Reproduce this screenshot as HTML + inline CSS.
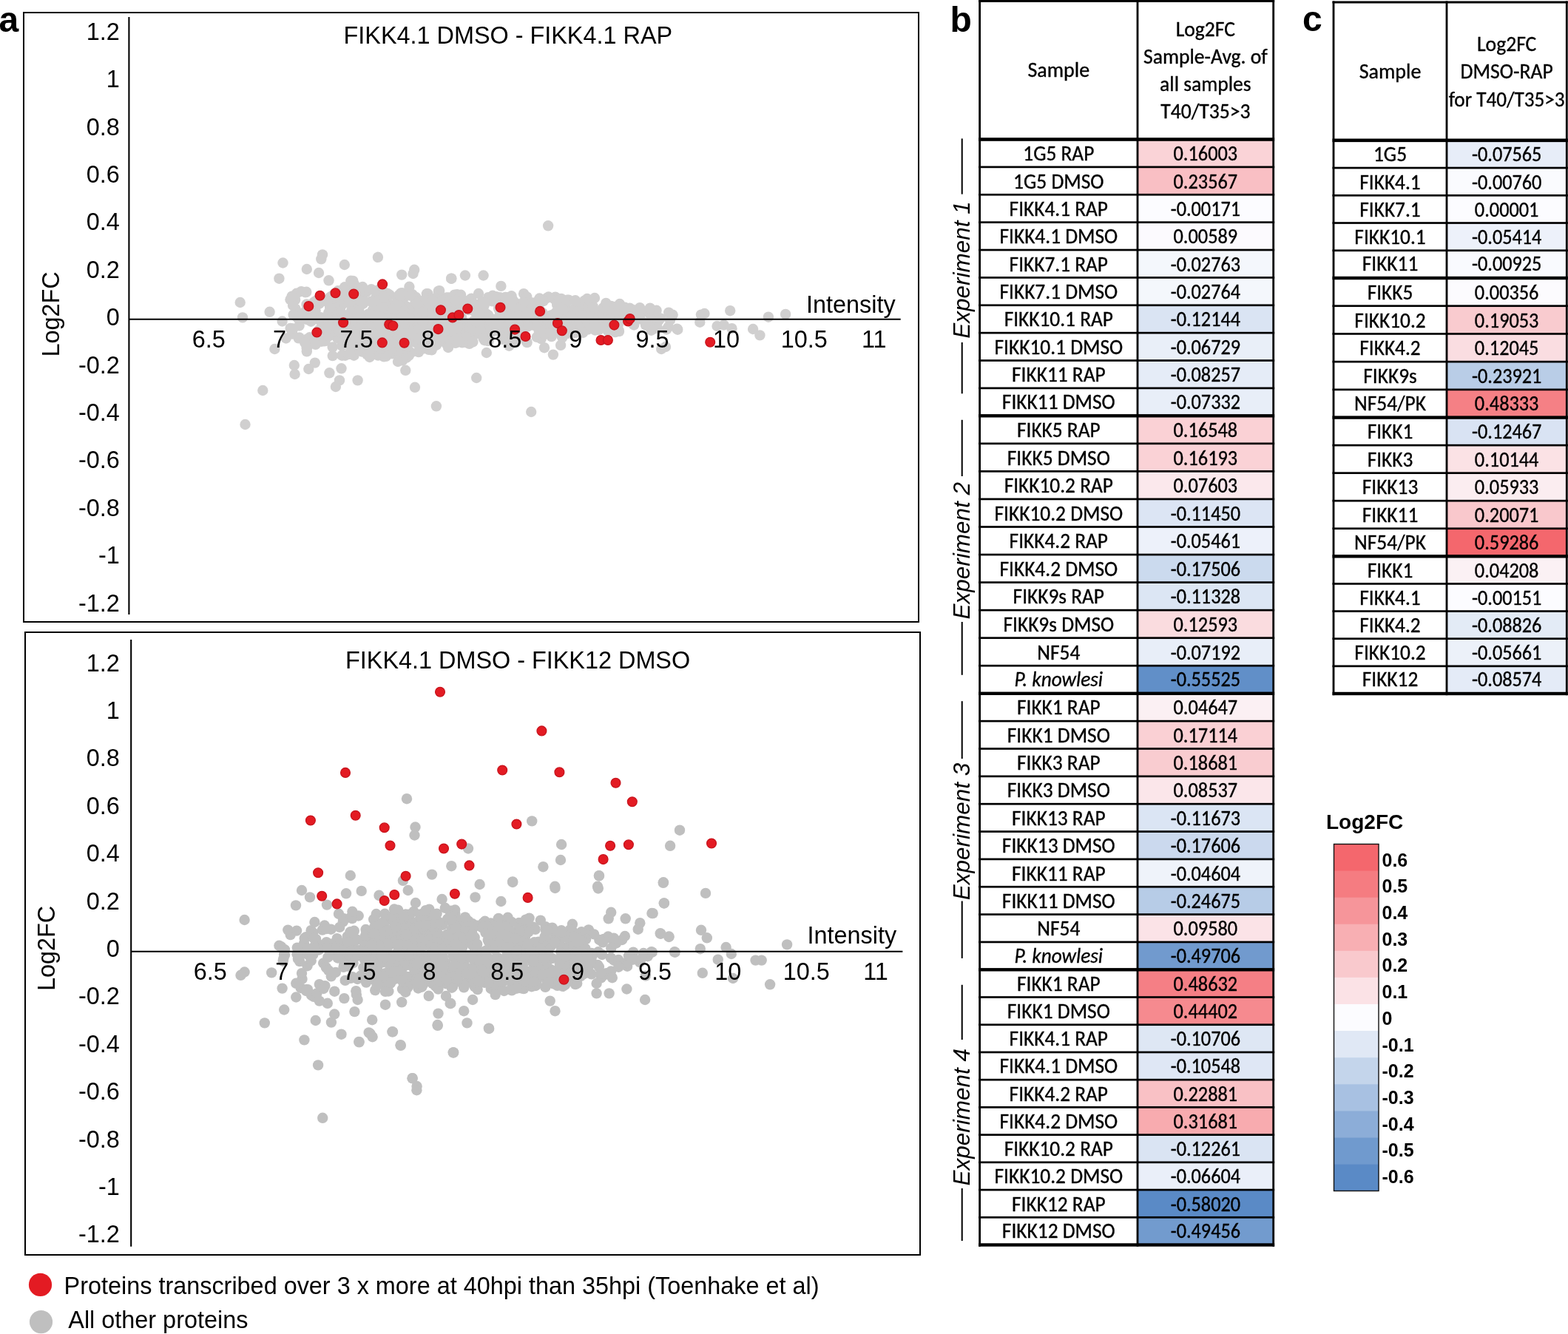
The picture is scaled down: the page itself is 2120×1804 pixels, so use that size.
<!DOCTYPE html><html><head><meta charset="utf-8"><title>Figure</title>
<style>html,body{margin:0;padding:0;background:#fff;}svg{display:block;}</style></head><body>
<svg width="2120" height="1804" viewBox="0 0 2120 1804">
<rect width="2120" height="1804" fill="#fff"/>
<rect x="32" y="17" width="1210" height="824" fill="none" stroke="#000" stroke-width="2"/>
<g fill="#d0cfcf">
<circle cx="491.7" cy="451.5" r="7.2"/>
<circle cx="438.1" cy="461.4" r="7.2"/>
<circle cx="469.3" cy="455.5" r="7.2"/>
<circle cx="777.3" cy="425.6" r="7.2"/>
<circle cx="549.6" cy="483.6" r="7.2"/>
<circle cx="434.6" cy="461.7" r="7.2"/>
<circle cx="561.3" cy="409.8" r="7.2"/>
<circle cx="674.1" cy="416.8" r="7.2"/>
<circle cx="555.7" cy="477.0" r="7.2"/>
<circle cx="439.0" cy="431.4" r="7.2"/>
<circle cx="470.8" cy="391.3" r="7.2"/>
<circle cx="641.3" cy="451.4" r="7.2"/>
<circle cx="790.9" cy="435.7" r="7.2"/>
<circle cx="517.1" cy="446.9" r="7.2"/>
<circle cx="526.7" cy="448.4" r="7.2"/>
<circle cx="729.9" cy="419.6" r="7.2"/>
<circle cx="806.5" cy="421.0" r="7.2"/>
<circle cx="521.3" cy="396.1" r="7.2"/>
<circle cx="691.0" cy="424.5" r="7.2"/>
<circle cx="626.3" cy="410.6" r="7.2"/>
<circle cx="625.1" cy="462.1" r="7.2"/>
<circle cx="672.3" cy="440.7" r="7.2"/>
<circle cx="604.6" cy="420.2" r="7.2"/>
<circle cx="505.7" cy="409.5" r="7.2"/>
<circle cx="544.0" cy="413.3" r="7.2"/>
<circle cx="527.5" cy="436.9" r="7.2"/>
<circle cx="752.7" cy="422.8" r="7.2"/>
<circle cx="530.2" cy="418.6" r="7.2"/>
<circle cx="788.4" cy="411.3" r="7.2"/>
<circle cx="768.0" cy="420.3" r="7.2"/>
<circle cx="400.2" cy="427.7" r="7.2"/>
<circle cx="425.7" cy="464.5" r="7.2"/>
<circle cx="832.8" cy="435.4" r="7.2"/>
<circle cx="415.5" cy="469.0" r="7.2"/>
<circle cx="681.7" cy="454.9" r="7.2"/>
<circle cx="485.8" cy="391.1" r="7.2"/>
<circle cx="808.4" cy="431.6" r="7.2"/>
<circle cx="758.9" cy="404.0" r="7.2"/>
<circle cx="732.7" cy="426.7" r="7.2"/>
<circle cx="729.7" cy="421.8" r="7.2"/>
<circle cx="826.3" cy="413.9" r="7.2"/>
<circle cx="490.1" cy="392.5" r="7.2"/>
<circle cx="537.8" cy="474.2" r="7.2"/>
<circle cx="511.7" cy="445.6" r="7.2"/>
<circle cx="520.6" cy="410.0" r="7.2"/>
<circle cx="781.7" cy="444.4" r="7.2"/>
<circle cx="685.4" cy="429.2" r="7.2"/>
<circle cx="568.6" cy="461.6" r="7.2"/>
<circle cx="414.3" cy="394.8" r="7.2"/>
<circle cx="508.6" cy="401.7" r="7.2"/>
<circle cx="551.0" cy="452.4" r="7.2"/>
<circle cx="562.4" cy="402.0" r="7.2"/>
<circle cx="885.5" cy="437.9" r="7.2"/>
<circle cx="721.5" cy="439.8" r="7.2"/>
<circle cx="509.7" cy="468.2" r="7.2"/>
<circle cx="889.2" cy="433.0" r="7.2"/>
<circle cx="577.2" cy="426.1" r="7.2"/>
<circle cx="685.7" cy="402.1" r="7.2"/>
<circle cx="446.8" cy="434.2" r="7.2"/>
<circle cx="548.3" cy="464.4" r="7.2"/>
<circle cx="825.9" cy="441.5" r="7.2"/>
<circle cx="578.4" cy="397.3" r="7.2"/>
<circle cx="758.7" cy="453.2" r="7.2"/>
<circle cx="502.0" cy="391.1" r="7.2"/>
<circle cx="449.7" cy="469.4" r="7.2"/>
<circle cx="854.0" cy="433.9" r="7.2"/>
<circle cx="710.1" cy="455.6" r="7.2"/>
<circle cx="472.2" cy="434.2" r="7.2"/>
<circle cx="475.9" cy="471.5" r="7.2"/>
<circle cx="464.5" cy="444.6" r="7.2"/>
<circle cx="656.8" cy="430.4" r="7.2"/>
<circle cx="892.9" cy="430.4" r="7.2"/>
<circle cx="831.1" cy="414.9" r="7.2"/>
<circle cx="440.2" cy="447.7" r="7.2"/>
<circle cx="448.9" cy="446.4" r="7.2"/>
<circle cx="483.9" cy="443.9" r="7.2"/>
<circle cx="495.4" cy="394.9" r="7.2"/>
<circle cx="523.4" cy="429.2" r="7.2"/>
<circle cx="672.7" cy="410.0" r="7.2"/>
<circle cx="636.3" cy="459.3" r="7.2"/>
<circle cx="739.6" cy="402.9" r="7.2"/>
<circle cx="729.3" cy="436.2" r="7.2"/>
<circle cx="537.2" cy="451.7" r="7.2"/>
<circle cx="682.1" cy="432.5" r="7.2"/>
<circle cx="667.3" cy="445.4" r="7.2"/>
<circle cx="583.7" cy="473.3" r="7.2"/>
<circle cx="794.6" cy="445.6" r="7.2"/>
<circle cx="456.9" cy="393.3" r="7.2"/>
<circle cx="733.7" cy="423.1" r="7.2"/>
<circle cx="511.2" cy="480.6" r="7.2"/>
<circle cx="509.4" cy="473.4" r="7.2"/>
<circle cx="617.5" cy="432.4" r="7.2"/>
<circle cx="781.6" cy="443.7" r="7.2"/>
<circle cx="767.0" cy="434.4" r="7.2"/>
<circle cx="534.4" cy="457.3" r="7.2"/>
<circle cx="456.2" cy="457.5" r="7.2"/>
<circle cx="487.7" cy="435.8" r="7.2"/>
<circle cx="711.3" cy="431.7" r="7.2"/>
<circle cx="904.1" cy="422.6" r="7.2"/>
<circle cx="538.1" cy="458.7" r="7.2"/>
<circle cx="704.4" cy="424.5" r="7.2"/>
<circle cx="594.2" cy="393.1" r="7.2"/>
<circle cx="466.6" cy="408.9" r="7.2"/>
<circle cx="464.0" cy="440.7" r="7.2"/>
<circle cx="523.1" cy="451.3" r="7.2"/>
<circle cx="479.3" cy="476.1" r="7.2"/>
<circle cx="692.7" cy="442.6" r="7.2"/>
<circle cx="453.4" cy="415.5" r="7.2"/>
<circle cx="659.5" cy="461.0" r="7.2"/>
<circle cx="746.4" cy="448.1" r="7.2"/>
<circle cx="762.3" cy="415.2" r="7.2"/>
<circle cx="741.3" cy="438.8" r="7.2"/>
<circle cx="692.3" cy="423.6" r="7.2"/>
<circle cx="458.4" cy="427.6" r="7.2"/>
<circle cx="472.2" cy="447.4" r="7.2"/>
<circle cx="403.6" cy="457.3" r="7.2"/>
<circle cx="697.8" cy="448.5" r="7.2"/>
<circle cx="509.3" cy="457.4" r="7.2"/>
<circle cx="873.2" cy="439.9" r="7.2"/>
<circle cx="517.4" cy="425.3" r="7.2"/>
<circle cx="516.1" cy="430.1" r="7.2"/>
<circle cx="496.3" cy="479.4" r="7.2"/>
<circle cx="849.6" cy="421.0" r="7.2"/>
<circle cx="866.2" cy="420.6" r="7.2"/>
<circle cx="476.1" cy="407.3" r="7.2"/>
<circle cx="637.3" cy="403.7" r="7.2"/>
<circle cx="421.0" cy="426.9" r="7.2"/>
<circle cx="616.0" cy="455.2" r="7.2"/>
<circle cx="463.4" cy="438.6" r="7.2"/>
<circle cx="464.9" cy="408.8" r="7.2"/>
<circle cx="592.7" cy="419.8" r="7.2"/>
<circle cx="832.1" cy="423.4" r="7.2"/>
<circle cx="473.8" cy="443.4" r="7.2"/>
<circle cx="526.3" cy="478.2" r="7.2"/>
<circle cx="424.2" cy="408.8" r="7.2"/>
<circle cx="511.2" cy="459.9" r="7.2"/>
<circle cx="836.5" cy="446.7" r="7.2"/>
<circle cx="612.9" cy="417.0" r="7.2"/>
<circle cx="727.5" cy="407.3" r="7.2"/>
<circle cx="472.1" cy="429.5" r="7.2"/>
<circle cx="466.1" cy="447.4" r="7.2"/>
<circle cx="407.3" cy="394.1" r="7.2"/>
<circle cx="553.8" cy="476.2" r="7.2"/>
<circle cx="885.4" cy="444.1" r="7.2"/>
<circle cx="526.4" cy="458.6" r="7.2"/>
<circle cx="750.8" cy="401.6" r="7.2"/>
<circle cx="802.3" cy="442.3" r="7.2"/>
<circle cx="687.9" cy="417.4" r="7.2"/>
<circle cx="554.9" cy="416.5" r="7.2"/>
<circle cx="825.2" cy="417.2" r="7.2"/>
<circle cx="446.1" cy="402.0" r="7.2"/>
<circle cx="395.8" cy="405.1" r="7.2"/>
<circle cx="466.7" cy="480.7" r="7.2"/>
<circle cx="617.0" cy="463.5" r="7.2"/>
<circle cx="592.5" cy="408.4" r="7.2"/>
<circle cx="600.1" cy="426.3" r="7.2"/>
<circle cx="777.1" cy="418.4" r="7.2"/>
<circle cx="666.6" cy="431.7" r="7.2"/>
<circle cx="599.0" cy="414.9" r="7.2"/>
<circle cx="525.2" cy="465.4" r="7.2"/>
<circle cx="477.1" cy="419.8" r="7.2"/>
<circle cx="701.5" cy="432.6" r="7.2"/>
<circle cx="728.9" cy="454.9" r="7.2"/>
<circle cx="735.1" cy="436.5" r="7.2"/>
<circle cx="566.0" cy="476.1" r="7.2"/>
<circle cx="466.0" cy="388.3" r="7.2"/>
<circle cx="719.4" cy="418.8" r="7.2"/>
<circle cx="644.1" cy="445.1" r="7.2"/>
<circle cx="431.5" cy="410.6" r="7.2"/>
<circle cx="542.8" cy="475.6" r="7.2"/>
<circle cx="425.2" cy="460.3" r="7.2"/>
<circle cx="890.0" cy="434.2" r="7.2"/>
<circle cx="477.6" cy="444.8" r="7.2"/>
<circle cx="875.6" cy="421.8" r="7.2"/>
<circle cx="526.0" cy="415.2" r="7.2"/>
<circle cx="474.3" cy="379.8" r="7.2"/>
<circle cx="523.5" cy="448.6" r="7.2"/>
<circle cx="747.9" cy="436.2" r="7.2"/>
<circle cx="768.2" cy="429.9" r="7.2"/>
<circle cx="479.2" cy="404.5" r="7.2"/>
<circle cx="765.7" cy="409.2" r="7.2"/>
<circle cx="481.0" cy="453.4" r="7.2"/>
<circle cx="734.9" cy="449.9" r="7.2"/>
<circle cx="530.2" cy="478.4" r="7.2"/>
<circle cx="726.8" cy="428.5" r="7.2"/>
<circle cx="546.7" cy="440.9" r="7.2"/>
<circle cx="693.2" cy="438.4" r="7.2"/>
<circle cx="439.7" cy="461.1" r="7.2"/>
<circle cx="447.6" cy="442.5" r="7.2"/>
<circle cx="879.6" cy="439.5" r="7.2"/>
<circle cx="511.8" cy="392.0" r="7.2"/>
<circle cx="456.1" cy="420.4" r="7.2"/>
<circle cx="572.8" cy="462.1" r="7.2"/>
<circle cx="613.6" cy="411.4" r="7.2"/>
<circle cx="624.9" cy="463.4" r="7.2"/>
<circle cx="431.7" cy="410.5" r="7.2"/>
<circle cx="849.6" cy="431.9" r="7.2"/>
<circle cx="448.9" cy="400.1" r="7.2"/>
<circle cx="856.4" cy="419.1" r="7.2"/>
<circle cx="576.1" cy="465.2" r="7.2"/>
<circle cx="420.0" cy="430.6" r="7.2"/>
<circle cx="399.1" cy="405.6" r="7.2"/>
<circle cx="880.5" cy="446.7" r="7.2"/>
<circle cx="414.6" cy="470.5" r="7.2"/>
<circle cx="794.0" cy="442.1" r="7.2"/>
<circle cx="415.3" cy="431.3" r="7.2"/>
<circle cx="712.6" cy="463.1" r="7.2"/>
<circle cx="716.3" cy="410.7" r="7.2"/>
<circle cx="451.2" cy="421.6" r="7.2"/>
<circle cx="745.6" cy="455.1" r="7.2"/>
<circle cx="753.5" cy="431.3" r="7.2"/>
<circle cx="490.2" cy="388.0" r="7.2"/>
<circle cx="487.1" cy="411.1" r="7.2"/>
<circle cx="725.8" cy="455.9" r="7.2"/>
<circle cx="770.8" cy="441.8" r="7.2"/>
<circle cx="399.5" cy="417.7" r="7.2"/>
<circle cx="691.6" cy="432.1" r="7.2"/>
<circle cx="544.5" cy="404.3" r="7.2"/>
<circle cx="485.3" cy="419.8" r="7.2"/>
<circle cx="452.2" cy="397.6" r="7.2"/>
<circle cx="768.9" cy="405.7" r="7.2"/>
<circle cx="743.0" cy="431.0" r="7.2"/>
<circle cx="524.9" cy="450.4" r="7.2"/>
<circle cx="647.0" cy="397.0" r="7.2"/>
<circle cx="532.4" cy="432.1" r="7.2"/>
<circle cx="515.0" cy="430.1" r="7.2"/>
<circle cx="469.9" cy="464.9" r="7.2"/>
<circle cx="477.3" cy="379.9" r="7.2"/>
<circle cx="543.3" cy="418.0" r="7.2"/>
<circle cx="762.7" cy="414.1" r="7.2"/>
<circle cx="413.7" cy="430.2" r="7.2"/>
<circle cx="503.7" cy="459.1" r="7.2"/>
<circle cx="413.0" cy="395.4" r="7.2"/>
<circle cx="427.8" cy="406.4" r="7.2"/>
<circle cx="588.2" cy="431.5" r="7.2"/>
<circle cx="680.7" cy="409.6" r="7.2"/>
<circle cx="577.1" cy="469.3" r="7.2"/>
<circle cx="475.2" cy="469.9" r="7.2"/>
<circle cx="633.7" cy="406.4" r="7.2"/>
<circle cx="529.5" cy="414.3" r="7.2"/>
<circle cx="849.5" cy="428.3" r="7.2"/>
<circle cx="687.8" cy="459.3" r="7.2"/>
<circle cx="786.2" cy="448.9" r="7.2"/>
<circle cx="606.7" cy="424.3" r="7.2"/>
<circle cx="449.7" cy="481.1" r="7.2"/>
<circle cx="582.2" cy="460.9" r="7.2"/>
<circle cx="584.4" cy="404.3" r="7.2"/>
<circle cx="629.5" cy="446.1" r="7.2"/>
<circle cx="688.0" cy="432.4" r="7.2"/>
<circle cx="607.2" cy="425.9" r="7.2"/>
<circle cx="729.1" cy="410.1" r="7.2"/>
<circle cx="831.9" cy="449.1" r="7.2"/>
<circle cx="543.1" cy="437.8" r="7.2"/>
<circle cx="879.3" cy="425.3" r="7.2"/>
<circle cx="495.4" cy="443.8" r="7.2"/>
<circle cx="431.4" cy="445.9" r="7.2"/>
<circle cx="478.5" cy="480.7" r="7.2"/>
<circle cx="404.6" cy="456.4" r="7.2"/>
<circle cx="548.6" cy="443.0" r="7.2"/>
<circle cx="739.0" cy="432.0" r="7.2"/>
<circle cx="623.1" cy="398.8" r="7.2"/>
<circle cx="394.2" cy="446.2" r="7.2"/>
<circle cx="504.3" cy="436.5" r="7.2"/>
<circle cx="642.3" cy="448.6" r="7.2"/>
<circle cx="519.1" cy="482.4" r="7.2"/>
<circle cx="392.6" cy="443.9" r="7.2"/>
<circle cx="590.6" cy="425.5" r="7.2"/>
<circle cx="418.5" cy="424.9" r="7.2"/>
<circle cx="711.7" cy="461.5" r="7.2"/>
<circle cx="694.2" cy="454.9" r="7.2"/>
<circle cx="512.0" cy="431.2" r="7.2"/>
<circle cx="579.7" cy="472.8" r="7.2"/>
<circle cx="772.9" cy="450.9" r="7.2"/>
<circle cx="542.8" cy="480.5" r="7.2"/>
<circle cx="392.5" cy="405.2" r="7.2"/>
<circle cx="675.1" cy="408.8" r="7.2"/>
<circle cx="417.9" cy="458.7" r="7.2"/>
<circle cx="483.9" cy="401.0" r="7.2"/>
<circle cx="414.8" cy="418.4" r="7.2"/>
<circle cx="634.6" cy="464.9" r="7.2"/>
<circle cx="479.2" cy="384.9" r="7.2"/>
<circle cx="552.7" cy="481.0" r="7.2"/>
<circle cx="542.9" cy="416.9" r="7.2"/>
<circle cx="616.3" cy="459.8" r="7.2"/>
<circle cx="595.6" cy="443.7" r="7.2"/>
<circle cx="763.5" cy="406.5" r="7.2"/>
<circle cx="418.7" cy="456.3" r="7.2"/>
<circle cx="432.8" cy="433.6" r="7.2"/>
<circle cx="660.1" cy="402.2" r="7.2"/>
<circle cx="614.8" cy="442.7" r="7.2"/>
<circle cx="656.3" cy="424.9" r="7.2"/>
<circle cx="690.0" cy="424.2" r="7.2"/>
<circle cx="755.8" cy="436.1" r="7.2"/>
<circle cx="544.5" cy="444.8" r="7.2"/>
<circle cx="707.6" cy="438.5" r="7.2"/>
<circle cx="491.8" cy="409.2" r="7.2"/>
<circle cx="720.6" cy="424.0" r="7.2"/>
<circle cx="436.7" cy="407.2" r="7.2"/>
<circle cx="654.0" cy="440.3" r="7.2"/>
<circle cx="903.6" cy="442.2" r="7.2"/>
<circle cx="853.6" cy="423.0" r="7.2"/>
<circle cx="396.6" cy="425.7" r="7.2"/>
<circle cx="777.4" cy="416.9" r="7.2"/>
<circle cx="767.0" cy="405.6" r="7.2"/>
<circle cx="837.0" cy="448.1" r="7.2"/>
<circle cx="439.7" cy="444.1" r="7.2"/>
<circle cx="553.3" cy="397.3" r="7.2"/>
<circle cx="683.9" cy="417.1" r="7.2"/>
<circle cx="684.1" cy="427.5" r="7.2"/>
<circle cx="600.3" cy="453.9" r="7.2"/>
<circle cx="486.1" cy="440.6" r="7.2"/>
<circle cx="698.3" cy="410.5" r="7.2"/>
<circle cx="434.6" cy="460.1" r="7.2"/>
<circle cx="651.9" cy="410.4" r="7.2"/>
<circle cx="701.0" cy="455.2" r="7.2"/>
<circle cx="537.2" cy="403.6" r="7.2"/>
<circle cx="707.0" cy="432.7" r="7.2"/>
<circle cx="456.2" cy="408.0" r="7.2"/>
<circle cx="400.9" cy="396.8" r="7.2"/>
<circle cx="719.3" cy="423.0" r="7.2"/>
<circle cx="451.7" cy="449.4" r="7.2"/>
<circle cx="744.4" cy="426.7" r="7.2"/>
<circle cx="570.5" cy="460.1" r="7.2"/>
<circle cx="461.8" cy="412.9" r="7.2"/>
<circle cx="395.2" cy="451.6" r="7.2"/>
<circle cx="678.1" cy="440.6" r="7.2"/>
<circle cx="414.6" cy="458.9" r="7.2"/>
<circle cx="573.0" cy="471.4" r="7.2"/>
<circle cx="664.6" cy="443.4" r="7.2"/>
<circle cx="489.1" cy="475.5" r="7.2"/>
<circle cx="878.1" cy="441.2" r="7.2"/>
<circle cx="519.4" cy="424.0" r="7.2"/>
<circle cx="455.5" cy="400.7" r="7.2"/>
<circle cx="551.5" cy="415.5" r="7.2"/>
<circle cx="614.8" cy="421.7" r="7.2"/>
<circle cx="555.0" cy="430.7" r="7.2"/>
<circle cx="396.0" cy="412.9" r="7.2"/>
<circle cx="420.5" cy="434.7" r="7.2"/>
<circle cx="609.3" cy="441.8" r="7.2"/>
<circle cx="510.9" cy="403.5" r="7.2"/>
<circle cx="403.3" cy="430.8" r="7.2"/>
<circle cx="670.9" cy="401.1" r="7.2"/>
<circle cx="688.8" cy="422.2" r="7.2"/>
<circle cx="434.8" cy="443.8" r="7.2"/>
<circle cx="462.4" cy="480.7" r="7.2"/>
<circle cx="520.9" cy="401.6" r="7.2"/>
<circle cx="494.7" cy="439.7" r="7.2"/>
<circle cx="606.1" cy="405.0" r="7.2"/>
<circle cx="409.0" cy="423.6" r="7.2"/>
<circle cx="688.2" cy="442.2" r="7.2"/>
<circle cx="746.5" cy="426.2" r="7.2"/>
<circle cx="497.2" cy="473.8" r="7.2"/>
<circle cx="731.7" cy="458.2" r="7.2"/>
<circle cx="688.9" cy="410.7" r="7.2"/>
<circle cx="857.2" cy="439.5" r="7.2"/>
<circle cx="590.1" cy="406.6" r="7.2"/>
<circle cx="426.6" cy="465.9" r="7.2"/>
<circle cx="825.8" cy="419.1" r="7.2"/>
<circle cx="879.4" cy="424.7" r="7.2"/>
<circle cx="679.2" cy="438.9" r="7.2"/>
<circle cx="640.3" cy="434.0" r="7.2"/>
<circle cx="749.8" cy="404.7" r="7.2"/>
<circle cx="526.6" cy="476.7" r="7.2"/>
<circle cx="525.8" cy="426.7" r="7.2"/>
<circle cx="693.3" cy="433.0" r="7.2"/>
<circle cx="664.7" cy="437.5" r="7.2"/>
<circle cx="492.5" cy="391.7" r="7.2"/>
<circle cx="541.8" cy="454.2" r="7.2"/>
<circle cx="564.8" cy="450.1" r="7.2"/>
<circle cx="414.7" cy="432.0" r="7.2"/>
<circle cx="605.9" cy="450.6" r="7.2"/>
<circle cx="414.5" cy="411.5" r="7.2"/>
<circle cx="765.4" cy="407.2" r="7.2"/>
<circle cx="518.9" cy="477.3" r="7.2"/>
<circle cx="836.6" cy="435.8" r="7.2"/>
<circle cx="647.1" cy="433.0" r="7.2"/>
<circle cx="576.9" cy="397.3" r="7.2"/>
<circle cx="834.6" cy="441.9" r="7.2"/>
<circle cx="760.3" cy="456.4" r="7.2"/>
<circle cx="482.0" cy="437.7" r="7.2"/>
<circle cx="394.7" cy="400.7" r="7.2"/>
<circle cx="433.6" cy="429.1" r="7.2"/>
<circle cx="691.3" cy="419.5" r="7.2"/>
<circle cx="865.1" cy="416.1" r="7.2"/>
<circle cx="700.1" cy="429.8" r="7.2"/>
<circle cx="561.9" cy="415.4" r="7.2"/>
<circle cx="576.6" cy="403.6" r="7.2"/>
<circle cx="708.1" cy="397.2" r="7.2"/>
<circle cx="741.6" cy="401.5" r="7.2"/>
<circle cx="462.3" cy="467.7" r="7.2"/>
<circle cx="762.0" cy="430.1" r="7.2"/>
<circle cx="490.9" cy="410.6" r="7.2"/>
<circle cx="614.5" cy="398.6" r="7.2"/>
<circle cx="624.0" cy="429.4" r="7.2"/>
<circle cx="624.7" cy="412.8" r="7.2"/>
<circle cx="757.2" cy="420.5" r="7.2"/>
<circle cx="521.9" cy="481.9" r="7.2"/>
<circle cx="566.6" cy="417.6" r="7.2"/>
<circle cx="471.4" cy="479.0" r="7.2"/>
<circle cx="507.1" cy="413.7" r="7.2"/>
<circle cx="473.5" cy="392.9" r="7.2"/>
<circle cx="417.5" cy="429.0" r="7.2"/>
<circle cx="723.1" cy="433.1" r="7.2"/>
<circle cx="576.1" cy="427.5" r="7.2"/>
<circle cx="689.0" cy="435.7" r="7.2"/>
<circle cx="778.1" cy="441.8" r="7.2"/>
<circle cx="801.2" cy="419.9" r="7.2"/>
<circle cx="659.2" cy="440.0" r="7.2"/>
<circle cx="446.6" cy="431.3" r="7.2"/>
<circle cx="603.6" cy="465.0" r="7.2"/>
<circle cx="589.0" cy="461.0" r="7.2"/>
<circle cx="888.7" cy="443.5" r="7.2"/>
<circle cx="552.2" cy="459.3" r="7.2"/>
<circle cx="475.3" cy="381.4" r="7.2"/>
<circle cx="680.1" cy="448.3" r="7.2"/>
<circle cx="791.9" cy="408.0" r="7.2"/>
<circle cx="901.2" cy="445.5" r="7.2"/>
<circle cx="731.7" cy="405.2" r="7.2"/>
<circle cx="499.9" cy="466.2" r="7.2"/>
<circle cx="524.1" cy="459.4" r="7.2"/>
<circle cx="712.2" cy="401.4" r="7.2"/>
<circle cx="584.6" cy="423.4" r="7.2"/>
<circle cx="695.7" cy="457.9" r="7.2"/>
<circle cx="592.8" cy="393.7" r="7.2"/>
<circle cx="887.6" cy="419.8" r="7.2"/>
<circle cx="539.8" cy="454.8" r="7.2"/>
<circle cx="837.9" cy="411.0" r="7.2"/>
<circle cx="544.3" cy="487.5" r="7.2"/>
<circle cx="444.4" cy="454.6" r="7.2"/>
<circle cx="697.4" cy="462.4" r="7.2"/>
<circle cx="691.1" cy="456.8" r="7.2"/>
<circle cx="761.3" cy="438.3" r="7.2"/>
<circle cx="396.3" cy="444.5" r="7.2"/>
<circle cx="788.0" cy="435.0" r="7.2"/>
<circle cx="580.6" cy="463.5" r="7.2"/>
<circle cx="426.6" cy="420.2" r="7.2"/>
<circle cx="615.2" cy="463.7" r="7.2"/>
<circle cx="651.1" cy="425.2" r="7.2"/>
<circle cx="536.9" cy="427.5" r="7.2"/>
<circle cx="662.5" cy="449.9" r="7.2"/>
<circle cx="636.6" cy="404.8" r="7.2"/>
<circle cx="822.2" cy="416.1" r="7.2"/>
<circle cx="487.1" cy="425.7" r="7.2"/>
<circle cx="609.5" cy="423.1" r="7.2"/>
<circle cx="619.5" cy="431.6" r="7.2"/>
<circle cx="590.2" cy="451.2" r="7.2"/>
<circle cx="679.7" cy="423.8" r="7.2"/>
<circle cx="790.1" cy="410.9" r="7.2"/>
<circle cx="753.3" cy="406.2" r="7.2"/>
<circle cx="679.2" cy="458.7" r="7.2"/>
<circle cx="826.7" cy="415.3" r="7.2"/>
<circle cx="674.1" cy="430.5" r="7.2"/>
<circle cx="617.3" cy="433.5" r="7.2"/>
<circle cx="699.6" cy="444.6" r="7.2"/>
<circle cx="595.8" cy="405.6" r="7.2"/>
<circle cx="654.9" cy="412.0" r="7.2"/>
<circle cx="757.1" cy="440.3" r="7.2"/>
<circle cx="595.7" cy="411.2" r="7.2"/>
<circle cx="603.8" cy="402.4" r="7.2"/>
<circle cx="697.8" cy="449.5" r="7.2"/>
<circle cx="733.2" cy="437.6" r="7.2"/>
<circle cx="529.3" cy="421.7" r="7.2"/>
<circle cx="722.3" cy="419.6" r="7.2"/>
<circle cx="480.2" cy="465.5" r="7.2"/>
<circle cx="804.8" cy="426.7" r="7.2"/>
<circle cx="453.1" cy="413.5" r="7.2"/>
<circle cx="730.0" cy="433.3" r="7.2"/>
<circle cx="858.7" cy="425.3" r="7.2"/>
<circle cx="735.9" cy="439.2" r="7.2"/>
<circle cx="616.2" cy="437.1" r="7.2"/>
<circle cx="862.2" cy="431.6" r="7.2"/>
<circle cx="596.0" cy="460.4" r="7.2"/>
<circle cx="599.9" cy="419.7" r="7.2"/>
<circle cx="446.7" cy="425.7" r="7.2"/>
<circle cx="657.4" cy="456.3" r="7.2"/>
<circle cx="551.6" cy="439.7" r="7.2"/>
<circle cx="677.1" cy="443.2" r="7.2"/>
<circle cx="490.2" cy="405.1" r="7.2"/>
<circle cx="468.1" cy="398.2" r="7.2"/>
<circle cx="822.6" cy="415.8" r="7.2"/>
<circle cx="523.9" cy="396.9" r="7.2"/>
<circle cx="811.0" cy="432.4" r="7.2"/>
<circle cx="480.6" cy="455.9" r="7.2"/>
<circle cx="660.1" cy="426.2" r="7.2"/>
<circle cx="478.6" cy="440.5" r="7.2"/>
<circle cx="461.1" cy="455.5" r="7.2"/>
<circle cx="547.5" cy="413.1" r="7.2"/>
<circle cx="500.5" cy="441.1" r="7.2"/>
<circle cx="667.8" cy="442.0" r="7.2"/>
<circle cx="487.1" cy="400.6" r="7.2"/>
<circle cx="475.1" cy="420.0" r="7.2"/>
<circle cx="543.9" cy="396.1" r="7.2"/>
<circle cx="862.5" cy="420.1" r="7.2"/>
<circle cx="590.3" cy="445.9" r="7.2"/>
<circle cx="517.0" cy="406.4" r="7.2"/>
<circle cx="596.2" cy="420.8" r="7.2"/>
<circle cx="547.9" cy="472.0" r="7.2"/>
<circle cx="684.4" cy="438.5" r="7.2"/>
<circle cx="619.7" cy="400.4" r="7.2"/>
<circle cx="781.5" cy="440.5" r="7.2"/>
<circle cx="537.1" cy="413.2" r="7.2"/>
<circle cx="759.2" cy="436.9" r="7.2"/>
<circle cx="572.6" cy="411.1" r="7.2"/>
<circle cx="686.2" cy="438.9" r="7.2"/>
<circle cx="757.0" cy="432.8" r="7.2"/>
<circle cx="632.1" cy="463.7" r="7.2"/>
<circle cx="692.0" cy="436.6" r="7.2"/>
<circle cx="697.1" cy="422.3" r="7.2"/>
<circle cx="672.3" cy="447.0" r="7.2"/>
<circle cx="753.2" cy="436.7" r="7.2"/>
<circle cx="627.2" cy="452.5" r="7.2"/>
<circle cx="680.8" cy="442.5" r="7.2"/>
<circle cx="658.7" cy="430.4" r="7.2"/>
<circle cx="820.5" cy="420.9" r="7.2"/>
<circle cx="462.0" cy="395.4" r="7.2"/>
<circle cx="495.5" cy="456.6" r="7.2"/>
<circle cx="490.7" cy="404.7" r="7.2"/>
<circle cx="634.3" cy="407.0" r="7.2"/>
<circle cx="675.3" cy="428.2" r="7.2"/>
<circle cx="583.0" cy="460.4" r="7.2"/>
<circle cx="527.0" cy="418.8" r="7.2"/>
<circle cx="767.7" cy="441.7" r="7.2"/>
<circle cx="553.9" cy="433.0" r="7.2"/>
<circle cx="459.4" cy="448.7" r="7.2"/>
<circle cx="467.8" cy="398.6" r="7.2"/>
<circle cx="557.4" cy="448.0" r="7.2"/>
<circle cx="582.7" cy="416.6" r="7.2"/>
<circle cx="514.1" cy="468.6" r="7.2"/>
<circle cx="572.0" cy="462.6" r="7.2"/>
<circle cx="587.2" cy="456.1" r="7.2"/>
<circle cx="565.0" cy="451.0" r="7.2"/>
<circle cx="650.2" cy="445.1" r="7.2"/>
<circle cx="460.0" cy="416.0" r="7.2"/>
<circle cx="724.8" cy="432.9" r="7.2"/>
<circle cx="501.6" cy="436.9" r="7.2"/>
<circle cx="626.6" cy="461.7" r="7.2"/>
<circle cx="515.4" cy="462.0" r="7.2"/>
<circle cx="476.1" cy="431.2" r="7.2"/>
<circle cx="683.9" cy="411.5" r="7.2"/>
<circle cx="700.4" cy="447.3" r="7.2"/>
<circle cx="546.7" cy="397.6" r="7.2"/>
<circle cx="824.6" cy="431.3" r="7.2"/>
<circle cx="452.1" cy="420.2" r="7.2"/>
<circle cx="508.2" cy="405.1" r="7.2"/>
<circle cx="834.5" cy="430.4" r="7.2"/>
<circle cx="691.8" cy="403.5" r="7.2"/>
<circle cx="545.6" cy="446.2" r="7.2"/>
<circle cx="773.7" cy="434.4" r="7.2"/>
<circle cx="633.5" cy="419.1" r="7.2"/>
<circle cx="851.4" cy="416.7" r="7.2"/>
<circle cx="577.1" cy="445.9" r="7.2"/>
<circle cx="620.2" cy="446.4" r="7.2"/>
<circle cx="544.3" cy="420.3" r="7.2"/>
<circle cx="582.5" cy="415.3" r="7.2"/>
<circle cx="728.6" cy="447.1" r="7.2"/>
<circle cx="619.5" cy="400.6" r="7.2"/>
<circle cx="865.6" cy="431.1" r="7.2"/>
<circle cx="755.3" cy="406.4" r="7.2"/>
<circle cx="660.6" cy="460.8" r="7.2"/>
<circle cx="706.2" cy="451.4" r="7.2"/>
<circle cx="453.2" cy="414.9" r="7.2"/>
<circle cx="513.3" cy="458.6" r="7.2"/>
<circle cx="606.6" cy="402.5" r="7.2"/>
<circle cx="516.9" cy="447.0" r="7.2"/>
<circle cx="634.1" cy="463.4" r="7.2"/>
<circle cx="444.2" cy="422.9" r="7.2"/>
<circle cx="696.9" cy="413.0" r="7.2"/>
<circle cx="651.1" cy="452.1" r="7.2"/>
<circle cx="699.4" cy="438.8" r="7.2"/>
<circle cx="668.0" cy="445.0" r="7.2"/>
<circle cx="503.1" cy="471.9" r="7.2"/>
<circle cx="710.7" cy="420.0" r="7.2"/>
<circle cx="621.0" cy="420.0" r="7.2"/>
<circle cx="701.9" cy="417.3" r="7.2"/>
<circle cx="706.3" cy="437.6" r="7.2"/>
<circle cx="751.7" cy="443.9" r="7.2"/>
<circle cx="560.3" cy="424.9" r="7.2"/>
<circle cx="557.6" cy="398.2" r="7.2"/>
<circle cx="618.0" cy="398.3" r="7.2"/>
<circle cx="568.0" cy="437.0" r="7.2"/>
<circle cx="629.1" cy="437.2" r="7.2"/>
<circle cx="716.3" cy="427.1" r="7.2"/>
<circle cx="677.9" cy="412.6" r="7.2"/>
<circle cx="457.8" cy="426.4" r="7.2"/>
<circle cx="617.1" cy="458.1" r="7.2"/>
<circle cx="575.5" cy="435.2" r="7.2"/>
<circle cx="469.7" cy="397.3" r="7.2"/>
<circle cx="703.7" cy="445.7" r="7.2"/>
<circle cx="554.2" cy="438.1" r="7.2"/>
<circle cx="708.0" cy="408.7" r="7.2"/>
<circle cx="683.2" cy="450.1" r="7.2"/>
<circle cx="661.1" cy="449.6" r="7.2"/>
<circle cx="535.9" cy="432.8" r="7.2"/>
<circle cx="547.7" cy="435.4" r="7.2"/>
<circle cx="459.9" cy="421.0" r="7.2"/>
<circle cx="490.3" cy="466.0" r="7.2"/>
<circle cx="507.3" cy="427.8" r="7.2"/>
<circle cx="526.7" cy="398.7" r="7.2"/>
<circle cx="575.4" cy="455.7" r="7.2"/>
<circle cx="542.4" cy="398.2" r="7.2"/>
<circle cx="522.8" cy="428.0" r="7.2"/>
<circle cx="541.9" cy="396.5" r="7.2"/>
<circle cx="836.1" cy="438.4" r="7.2"/>
<circle cx="561.4" cy="462.9" r="7.2"/>
<circle cx="677.6" cy="403.6" r="7.2"/>
<circle cx="691.2" cy="440.8" r="7.2"/>
<circle cx="676.0" cy="402.1" r="7.2"/>
<circle cx="560.3" cy="417.3" r="7.2"/>
<circle cx="469.9" cy="428.0" r="7.2"/>
<circle cx="685.6" cy="413.3" r="7.2"/>
<circle cx="476.5" cy="434.5" r="7.2"/>
<circle cx="797.9" cy="441.8" r="7.2"/>
<circle cx="684.3" cy="403.8" r="7.2"/>
<circle cx="872.7" cy="438.1" r="7.2"/>
<circle cx="657.2" cy="424.1" r="7.2"/>
<circle cx="640.4" cy="453.5" r="7.2"/>
<circle cx="778.6" cy="426.1" r="7.2"/>
<circle cx="595.3" cy="442.4" r="7.2"/>
<circle cx="730.8" cy="449.7" r="7.2"/>
<circle cx="606.5" cy="453.8" r="7.2"/>
<circle cx="460.5" cy="434.7" r="7.2"/>
<circle cx="479.9" cy="402.3" r="7.2"/>
<circle cx="555.0" cy="447.6" r="7.2"/>
<circle cx="810.6" cy="429.5" r="7.2"/>
<circle cx="628.2" cy="462.0" r="7.2"/>
<circle cx="660.6" cy="443.2" r="7.2"/>
<circle cx="553.5" cy="446.7" r="7.2"/>
<circle cx="731.0" cy="406.8" r="7.2"/>
<circle cx="528.7" cy="413.0" r="7.2"/>
<circle cx="467.3" cy="465.1" r="7.2"/>
<circle cx="781.9" cy="421.2" r="7.2"/>
<circle cx="549.1" cy="459.6" r="7.2"/>
<circle cx="504.4" cy="451.0" r="7.2"/>
<circle cx="450.8" cy="421.8" r="7.2"/>
<circle cx="841.5" cy="427.7" r="7.2"/>
<circle cx="656.9" cy="439.9" r="7.2"/>
<circle cx="679.8" cy="451.4" r="7.2"/>
<circle cx="766.3" cy="436.2" r="7.2"/>
<circle cx="506.8" cy="440.7" r="7.2"/>
<circle cx="694.0" cy="446.6" r="7.2"/>
<circle cx="616.9" cy="447.6" r="7.2"/>
<circle cx="835.5" cy="414.8" r="7.2"/>
<circle cx="640.3" cy="420.3" r="7.2"/>
<circle cx="821.7" cy="447.3" r="7.2"/>
<circle cx="755.9" cy="437.0" r="7.2"/>
<circle cx="486.6" cy="461.6" r="7.2"/>
<circle cx="481.8" cy="404.1" r="7.2"/>
<circle cx="612.5" cy="448.2" r="7.2"/>
<circle cx="557.9" cy="417.4" r="7.2"/>
<circle cx="843.5" cy="424.6" r="7.2"/>
<circle cx="652.0" cy="416.4" r="7.2"/>
<circle cx="753.2" cy="412.3" r="7.2"/>
<circle cx="588.6" cy="433.0" r="7.2"/>
<circle cx="651.9" cy="407.9" r="7.2"/>
<circle cx="678.3" cy="435.6" r="7.2"/>
<circle cx="548.0" cy="400.6" r="7.2"/>
<circle cx="556.8" cy="426.3" r="7.2"/>
<circle cx="598.3" cy="437.9" r="7.2"/>
<circle cx="476.3" cy="447.5" r="7.2"/>
<circle cx="747.8" cy="442.7" r="7.2"/>
<circle cx="725.2" cy="431.0" r="7.2"/>
<circle cx="547.9" cy="457.3" r="7.2"/>
<circle cx="802.9" cy="419.5" r="7.2"/>
<circle cx="596.1" cy="457.7" r="7.2"/>
<circle cx="653.5" cy="416.2" r="7.2"/>
<circle cx="503.9" cy="419.3" r="7.2"/>
<circle cx="501.5" cy="407.7" r="7.2"/>
<circle cx="798.5" cy="425.9" r="7.2"/>
<circle cx="637.8" cy="409.6" r="7.2"/>
<circle cx="864.9" cy="429.2" r="7.2"/>
<circle cx="455.6" cy="445.1" r="7.2"/>
<circle cx="733.3" cy="427.8" r="7.2"/>
<circle cx="738.7" cy="431.9" r="7.2"/>
<circle cx="548.7" cy="399.2" r="7.2"/>
<circle cx="740.1" cy="442.3" r="7.2"/>
<circle cx="866.2" cy="418.8" r="7.2"/>
<circle cx="571.6" cy="408.6" r="7.2"/>
<circle cx="450.2" cy="430.3" r="7.2"/>
<circle cx="691.5" cy="400.3" r="7.2"/>
<circle cx="543.5" cy="452.8" r="7.2"/>
<circle cx="778.7" cy="433.5" r="7.2"/>
<circle cx="689.1" cy="415.0" r="7.2"/>
<circle cx="711.1" cy="428.4" r="7.2"/>
<circle cx="656.3" cy="449.9" r="7.2"/>
<circle cx="535.4" cy="413.1" r="7.2"/>
<circle cx="734.7" cy="407.1" r="7.2"/>
<circle cx="483.2" cy="444.8" r="7.2"/>
<circle cx="638.8" cy="440.2" r="7.2"/>
<circle cx="539.1" cy="407.3" r="7.2"/>
<circle cx="546.9" cy="449.8" r="7.2"/>
<circle cx="640.8" cy="441.4" r="7.2"/>
<circle cx="614.2" cy="420.0" r="7.2"/>
<circle cx="675.7" cy="421.3" r="7.2"/>
<circle cx="474.0" cy="395.5" r="7.2"/>
<circle cx="827.2" cy="422.9" r="7.2"/>
<circle cx="559.7" cy="444.1" r="7.2"/>
<circle cx="451.8" cy="441.5" r="7.2"/>
<circle cx="697.3" cy="438.3" r="7.2"/>
<circle cx="622.6" cy="434.0" r="7.2"/>
<circle cx="550.7" cy="468.9" r="7.2"/>
<circle cx="797.6" cy="422.9" r="7.2"/>
<circle cx="645.1" cy="447.4" r="7.2"/>
<circle cx="872.8" cy="436.6" r="7.2"/>
<circle cx="813.1" cy="426.3" r="7.2"/>
<circle cx="571.9" cy="409.8" r="7.2"/>
<circle cx="448.2" cy="423.4" r="7.2"/>
<circle cx="505.0" cy="426.9" r="7.2"/>
<circle cx="613.0" cy="456.5" r="7.2"/>
<circle cx="630.4" cy="455.7" r="7.2"/>
<circle cx="799.9" cy="437.2" r="7.2"/>
<circle cx="595.3" cy="422.1" r="7.2"/>
<circle cx="659.0" cy="452.5" r="7.2"/>
<circle cx="820.2" cy="413.4" r="7.2"/>
<circle cx="812.1" cy="434.8" r="7.2"/>
<circle cx="467.2" cy="442.4" r="7.2"/>
<circle cx="528.0" cy="472.1" r="7.2"/>
<circle cx="804.6" cy="446.5" r="7.2"/>
<circle cx="655.2" cy="460.2" r="7.2"/>
<circle cx="665.4" cy="448.6" r="7.2"/>
<circle cx="725.3" cy="439.3" r="7.2"/>
<circle cx="636.0" cy="443.6" r="7.2"/>
<circle cx="635.0" cy="442.7" r="7.2"/>
<circle cx="477.0" cy="470.2" r="7.2"/>
<circle cx="444.0" cy="432.2" r="7.2"/>
<circle cx="560.3" cy="434.3" r="7.2"/>
<circle cx="566.6" cy="423.4" r="7.2"/>
<circle cx="810.4" cy="429.5" r="7.2"/>
<circle cx="485.2" cy="412.8" r="7.2"/>
<circle cx="619.7" cy="434.7" r="7.2"/>
<circle cx="525.8" cy="415.1" r="7.2"/>
<circle cx="472.0" cy="409.9" r="7.2"/>
<circle cx="543.3" cy="416.0" r="7.2"/>
<circle cx="573.8" cy="415.7" r="7.2"/>
<circle cx="856.0" cy="438.2" r="7.2"/>
<circle cx="798.4" cy="440.3" r="7.2"/>
<circle cx="488.5" cy="411.8" r="7.2"/>
<circle cx="679.1" cy="422.2" r="7.2"/>
<circle cx="567.3" cy="470.8" r="7.2"/>
<circle cx="577.2" cy="415.3" r="7.2"/>
<circle cx="490.4" cy="429.8" r="7.2"/>
<circle cx="788.1" cy="449.8" r="7.2"/>
<circle cx="620.7" cy="440.0" r="7.2"/>
<circle cx="590.2" cy="466.3" r="7.2"/>
<circle cx="452.9" cy="448.1" r="7.2"/>
<circle cx="530.2" cy="464.7" r="7.2"/>
<circle cx="505.7" cy="463.6" r="7.2"/>
<circle cx="616.3" cy="425.1" r="7.2"/>
<circle cx="571.6" cy="422.7" r="7.2"/>
<circle cx="675.5" cy="446.3" r="7.2"/>
<circle cx="735.1" cy="427.6" r="7.2"/>
<circle cx="743.9" cy="446.6" r="7.2"/>
<circle cx="696.9" cy="414.7" r="7.2"/>
<circle cx="641.2" cy="414.2" r="7.2"/>
<circle cx="523.3" cy="416.8" r="7.2"/>
<circle cx="854.6" cy="431.2" r="7.2"/>
<circle cx="648.7" cy="439.3" r="7.2"/>
<circle cx="633.5" cy="417.0" r="7.2"/>
<circle cx="809.4" cy="446.1" r="7.2"/>
<circle cx="519.4" cy="441.8" r="7.2"/>
<circle cx="523.6" cy="406.2" r="7.2"/>
<circle cx="539.4" cy="399.2" r="7.2"/>
<circle cx="579.0" cy="440.2" r="7.2"/>
<circle cx="705.8" cy="419.3" r="7.2"/>
<circle cx="448.4" cy="404.7" r="7.2"/>
<circle cx="853.1" cy="421.5" r="7.2"/>
<circle cx="711.9" cy="427.4" r="7.2"/>
<circle cx="751.0" cy="423.0" r="7.2"/>
<circle cx="541.4" cy="399.9" r="7.2"/>
<circle cx="648.2" cy="426.6" r="7.2"/>
<circle cx="465.5" cy="449.9" r="7.2"/>
<circle cx="754.5" cy="421.8" r="7.2"/>
<circle cx="583.8" cy="440.6" r="7.2"/>
<circle cx="630.1" cy="410.3" r="7.2"/>
<circle cx="605.2" cy="432.7" r="7.2"/>
<circle cx="788.1" cy="424.5" r="7.2"/>
<circle cx="487.6" cy="443.9" r="7.2"/>
<circle cx="614.0" cy="449.1" r="7.2"/>
<circle cx="663.5" cy="438.3" r="7.2"/>
<circle cx="614.2" cy="459.9" r="7.2"/>
<circle cx="505.8" cy="430.1" r="7.2"/>
<circle cx="666.1" cy="399.8" r="7.2"/>
<circle cx="621.5" cy="457.0" r="7.2"/>
<circle cx="698.6" cy="447.1" r="7.2"/>
<circle cx="664.9" cy="431.9" r="7.2"/>
<circle cx="681.8" cy="438.6" r="7.2"/>
<circle cx="665.7" cy="446.4" r="7.2"/>
<circle cx="484.2" cy="452.4" r="7.2"/>
<circle cx="569.8" cy="407.6" r="7.2"/>
<circle cx="694.7" cy="427.4" r="7.2"/>
<circle cx="565.3" cy="444.2" r="7.2"/>
<circle cx="721.7" cy="410.2" r="7.2"/>
<circle cx="573.2" cy="422.7" r="7.2"/>
<circle cx="689.0" cy="429.5" r="7.2"/>
<circle cx="686.5" cy="444.7" r="7.2"/>
<circle cx="584.0" cy="423.5" r="7.2"/>
<circle cx="777.9" cy="450.0" r="7.2"/>
<circle cx="735.4" cy="432.5" r="7.2"/>
<circle cx="803.7" cy="432.9" r="7.2"/>
<circle cx="676.7" cy="429.8" r="7.2"/>
<circle cx="639.1" cy="415.5" r="7.2"/>
<circle cx="576.4" cy="461.8" r="7.2"/>
<circle cx="511.1" cy="461.4" r="7.2"/>
<circle cx="597.9" cy="439.7" r="7.2"/>
<circle cx="533.0" cy="418.4" r="7.2"/>
<circle cx="541.6" cy="414.0" r="7.2"/>
<circle cx="683.1" cy="411.7" r="7.2"/>
<circle cx="620.7" cy="461.4" r="7.2"/>
<circle cx="554.5" cy="399.7" r="7.2"/>
<circle cx="512.5" cy="466.4" r="7.2"/>
<circle cx="497.6" cy="425.0" r="7.2"/>
<circle cx="614.2" cy="426.8" r="7.2"/>
<circle cx="740.4" cy="431.9" r="7.2"/>
<circle cx="509.9" cy="393.8" r="7.2"/>
<circle cx="569.8" cy="443.7" r="7.2"/>
<circle cx="530.3" cy="417.5" r="7.2"/>
<circle cx="559.5" cy="452.1" r="7.2"/>
<circle cx="768.8" cy="430.2" r="7.2"/>
<circle cx="703.6" cy="455.2" r="7.2"/>
<circle cx="747.6" cy="438.4" r="7.2"/>
<circle cx="481.8" cy="394.4" r="7.2"/>
<circle cx="495.7" cy="449.3" r="7.2"/>
<circle cx="658.5" cy="451.1" r="7.2"/>
<circle cx="732.1" cy="453.3" r="7.2"/>
<circle cx="536.3" cy="435.3" r="7.2"/>
<circle cx="495.2" cy="461.7" r="7.2"/>
<circle cx="822.3" cy="418.5" r="7.2"/>
<circle cx="691.6" cy="412.0" r="7.2"/>
<circle cx="524.3" cy="466.5" r="7.2"/>
<circle cx="587.4" cy="428.0" r="7.2"/>
<circle cx="480.4" cy="396.8" r="7.2"/>
<circle cx="663.4" cy="434.5" r="7.2"/>
<circle cx="689.3" cy="440.6" r="7.2"/>
<circle cx="734.6" cy="447.3" r="7.2"/>
<circle cx="719.6" cy="409.4" r="7.2"/>
<circle cx="649.4" cy="447.3" r="7.2"/>
<circle cx="754.6" cy="441.3" r="7.2"/>
<circle cx="768.1" cy="426.5" r="7.2"/>
<circle cx="571.9" cy="439.6" r="7.2"/>
<circle cx="648.2" cy="424.0" r="7.2"/>
<circle cx="547.5" cy="437.5" r="7.2"/>
<circle cx="790.2" cy="406.6" r="7.2"/>
<circle cx="760.9" cy="418.2" r="7.2"/>
<circle cx="665.6" cy="407.4" r="7.2"/>
<circle cx="796.5" cy="416.8" r="7.2"/>
<circle cx="516.2" cy="415.4" r="7.2"/>
<circle cx="766.2" cy="443.9" r="7.2"/>
<circle cx="493.1" cy="468.2" r="7.2"/>
<circle cx="559.1" cy="434.0" r="7.2"/>
<circle cx="508.0" cy="426.2" r="7.2"/>
<circle cx="487.7" cy="430.4" r="7.2"/>
<circle cx="765.8" cy="433.4" r="7.2"/>
<circle cx="601.2" cy="405.5" r="7.2"/>
<circle cx="496.0" cy="460.0" r="7.2"/>
<circle cx="571.4" cy="433.9" r="7.2"/>
<circle cx="796.4" cy="423.8" r="7.2"/>
<circle cx="574.4" cy="405.2" r="7.2"/>
<circle cx="447.1" cy="419.4" r="7.2"/>
<circle cx="494.5" cy="453.6" r="7.2"/>
<circle cx="520.3" cy="411.0" r="7.2"/>
<circle cx="587.9" cy="403.7" r="7.2"/>
<circle cx="675.4" cy="430.3" r="7.2"/>
<circle cx="538.3" cy="445.5" r="7.2"/>
<circle cx="795.1" cy="414.6" r="7.2"/>
<circle cx="620.7" cy="432.8" r="7.2"/>
<circle cx="458.3" cy="447.1" r="7.2"/>
<circle cx="607.3" cy="407.4" r="7.2"/>
<circle cx="829.0" cy="443.0" r="7.2"/>
<circle cx="787.5" cy="426.4" r="7.2"/>
<circle cx="743.9" cy="449.6" r="7.2"/>
<circle cx="729.4" cy="403.5" r="7.2"/>
<circle cx="465.4" cy="454.8" r="7.2"/>
<circle cx="760.4" cy="451.8" r="7.2"/>
<circle cx="462.3" cy="433.1" r="7.2"/>
<circle cx="854.5" cy="423.4" r="7.2"/>
<circle cx="522.8" cy="464.8" r="7.2"/>
<circle cx="572.6" cy="468.3" r="7.2"/>
<circle cx="736.6" cy="451.8" r="7.2"/>
<circle cx="696.4" cy="415.0" r="7.2"/>
<circle cx="705.7" cy="426.9" r="7.2"/>
<circle cx="485.8" cy="395.7" r="7.2"/>
<circle cx="668.5" cy="402.4" r="7.2"/>
<circle cx="619.9" cy="409.0" r="7.2"/>
<circle cx="563.3" cy="411.0" r="7.2"/>
<circle cx="777.9" cy="406.3" r="7.2"/>
<circle cx="734.6" cy="427.6" r="7.2"/>
<circle cx="749.3" cy="446.1" r="7.2"/>
<circle cx="446.0" cy="413.8" r="7.2"/>
<circle cx="772.0" cy="446.3" r="7.2"/>
<circle cx="687.5" cy="442.8" r="7.2"/>
<circle cx="828.7" cy="436.6" r="7.2"/>
<circle cx="642.2" cy="411.7" r="7.2"/>
<circle cx="474.8" cy="411.0" r="7.2"/>
<circle cx="639.4" cy="462.5" r="7.2"/>
<circle cx="517.4" cy="414.8" r="7.2"/>
<circle cx="514.7" cy="470.9" r="7.2"/>
<circle cx="713.3" cy="424.3" r="7.2"/>
<circle cx="852.1" cy="429.4" r="7.2"/>
<circle cx="585.4" cy="407.6" r="7.2"/>
<circle cx="565.4" cy="458.0" r="7.2"/>
<circle cx="466.3" cy="426.2" r="7.2"/>
<circle cx="499.7" cy="472.5" r="7.2"/>
<circle cx="670.3" cy="440.5" r="7.2"/>
<circle cx="693.7" cy="406.0" r="7.2"/>
<circle cx="595.5" cy="429.9" r="7.2"/>
<circle cx="729.7" cy="407.7" r="7.2"/>
<circle cx="501.2" cy="425.2" r="7.2"/>
<circle cx="702.2" cy="427.1" r="7.2"/>
<circle cx="572.0" cy="468.7" r="7.2"/>
<circle cx="446.2" cy="416.1" r="7.2"/>
<circle cx="639.3" cy="444.4" r="7.2"/>
<circle cx="542.0" cy="465.9" r="7.2"/>
<circle cx="510.2" cy="406.6" r="7.2"/>
<circle cx="519.1" cy="402.0" r="7.2"/>
<circle cx="469.8" cy="448.1" r="7.2"/>
<circle cx="828.6" cy="439.6" r="7.2"/>
<circle cx="801.7" cy="414.4" r="7.2"/>
<circle cx="643.9" cy="435.1" r="7.2"/>
<circle cx="470.0" cy="463.4" r="7.2"/>
<circle cx="554.0" cy="432.9" r="7.2"/>
<circle cx="468.8" cy="442.0" r="7.2"/>
<circle cx="582.4" cy="465.7" r="7.2"/>
<circle cx="850.8" cy="434.1" r="7.2"/>
<circle cx="713.4" cy="441.6" r="7.2"/>
<circle cx="444.2" cy="441.4" r="7.2"/>
<circle cx="552.5" cy="429.6" r="7.2"/>
<circle cx="720.2" cy="416.7" r="7.2"/>
<circle cx="653.4" cy="457.1" r="7.2"/>
<circle cx="546.7" cy="420.9" r="7.2"/>
<circle cx="744.8" cy="450.9" r="7.2"/>
<circle cx="486.9" cy="406.6" r="7.2"/>
<circle cx="772.3" cy="428.2" r="7.2"/>
<circle cx="620.6" cy="401.9" r="7.2"/>
<circle cx="511.7" cy="439.1" r="7.2"/>
<circle cx="819.2" cy="441.4" r="7.2"/>
<circle cx="546.8" cy="427.4" r="7.2"/>
<circle cx="488.8" cy="450.4" r="7.2"/>
<circle cx="516.5" cy="453.2" r="7.2"/>
<circle cx="473.7" cy="407.8" r="7.2"/>
<circle cx="600.7" cy="448.9" r="7.2"/>
<circle cx="712.5" cy="425.2" r="7.2"/>
<circle cx="614.1" cy="408.2" r="7.2"/>
<circle cx="584.8" cy="406.8" r="7.2"/>
<circle cx="692.4" cy="430.8" r="7.2"/>
<circle cx="503.3" cy="450.9" r="7.2"/>
<circle cx="701.3" cy="444.2" r="7.2"/>
<circle cx="683.4" cy="401.9" r="7.2"/>
<circle cx="766.9" cy="451.0" r="7.2"/>
<circle cx="815.6" cy="416.1" r="7.2"/>
<circle cx="844.6" cy="420.4" r="7.2"/>
<circle cx="616.4" cy="406.0" r="7.2"/>
</g>
<circle cx="436" cy="344.4" r="7.2" fill="#d0cfcf"/>
<circle cx="434.3" cy="350.4" r="7.2" fill="#d0cfcf"/>
<circle cx="382.5" cy="355.5" r="7.2" fill="#d0cfcf"/>
<circle cx="465.8" cy="358" r="7.2" fill="#d0cfcf"/>
<circle cx="510.9" cy="347.8" r="7.2" fill="#d0cfcf"/>
<circle cx="377.4" cy="376.7" r="7.2" fill="#d0cfcf"/>
<circle cx="414.8" cy="364" r="7.2" fill="#d0cfcf"/>
<circle cx="431" cy="369" r="7.2" fill="#d0cfcf"/>
<circle cx="444.5" cy="379.3" r="7.2" fill="#d0cfcf"/>
<circle cx="543.2" cy="371.6" r="7.2" fill="#d0cfcf"/>
<circle cx="560.2" cy="364.8" r="7.2" fill="#d0cfcf"/>
<circle cx="558.5" cy="370" r="7.2" fill="#d0cfcf"/>
<circle cx="610.3" cy="376.7" r="7.2" fill="#d0cfcf"/>
<circle cx="553.4" cy="387.8" r="7.2" fill="#d0cfcf"/>
<circle cx="324.7" cy="409" r="7.2" fill="#d0cfcf"/>
<circle cx="328" cy="429.4" r="7.2" fill="#d0cfcf"/>
<circle cx="364.6" cy="421.8" r="7.2" fill="#d0cfcf"/>
<circle cx="381.6" cy="434.5" r="7.2" fill="#d0cfcf"/>
<circle cx="404.6" cy="440.5" r="7.2" fill="#d0cfcf"/>
<circle cx="386.7" cy="457.5" r="7.2" fill="#d0cfcf"/>
<circle cx="371.4" cy="472" r="7.2" fill="#d0cfcf"/>
<circle cx="412.2" cy="463.4" r="7.2" fill="#d0cfcf"/>
<circle cx="414.8" cy="475.3" r="7.2" fill="#d0cfcf"/>
<circle cx="397.8" cy="494" r="7.2" fill="#d0cfcf"/>
<circle cx="398.6" cy="506" r="7.2" fill="#d0cfcf"/>
<circle cx="425.8" cy="490.6" r="7.2" fill="#d0cfcf"/>
<circle cx="417.3" cy="499" r="7.2" fill="#d0cfcf"/>
<circle cx="445.4" cy="504.3" r="7.2" fill="#d0cfcf"/>
<circle cx="461.5" cy="498.3" r="7.2" fill="#d0cfcf"/>
<circle cx="459" cy="514.4" r="7.2" fill="#d0cfcf"/>
<circle cx="453.9" cy="523" r="7.2" fill="#d0cfcf"/>
<circle cx="483.6" cy="514.4" r="7.2" fill="#d0cfcf"/>
<circle cx="499.8" cy="483" r="7.2" fill="#d0cfcf"/>
<circle cx="473.4" cy="478.7" r="7.2" fill="#d0cfcf"/>
<circle cx="548.3" cy="500.8" r="7.2" fill="#d0cfcf"/>
<circle cx="561" cy="523.8" r="7.2" fill="#d0cfcf"/>
<circle cx="589.9" cy="549.3" r="7.2" fill="#d0cfcf"/>
<circle cx="355.3" cy="528" r="7.2" fill="#d0cfcf"/>
<circle cx="331.5" cy="574" r="7.2" fill="#d0cfcf"/>
<circle cx="538" cy="489" r="7.2" fill="#d0cfcf"/>
<circle cx="606" cy="470" r="7.2" fill="#d0cfcf"/>
<circle cx="589" cy="467" r="7.2" fill="#d0cfcf"/>
<circle cx="741.1" cy="305.3" r="7.2" fill="#d0cfcf"/>
<circle cx="610.2" cy="376.7" r="7.2" fill="#d0cfcf"/>
<circle cx="628.9" cy="372.5" r="7.2" fill="#d0cfcf"/>
<circle cx="653.6" cy="372.5" r="7.2" fill="#d0cfcf"/>
<circle cx="677.4" cy="386.9" r="7.2" fill="#d0cfcf"/>
<circle cx="644.2" cy="511" r="7.2" fill="#d0cfcf"/>
<circle cx="718.2" cy="557" r="7.2" fill="#d0cfcf"/>
<circle cx="657.8" cy="477" r="7.2" fill="#d0cfcf"/>
<circle cx="688.4" cy="467.7" r="7.2" fill="#d0cfcf"/>
<circle cx="736" cy="470.2" r="7.2" fill="#d0cfcf"/>
<circle cx="747.9" cy="479.6" r="7.2" fill="#d0cfcf"/>
<circle cx="758.1" cy="466.8" r="7.2" fill="#d0cfcf"/>
<circle cx="894.2" cy="472" r="7.2" fill="#d0cfcf"/>
<circle cx="915.4" cy="444.7" r="7.2" fill="#d0cfcf"/>
<circle cx="793.8" cy="404" r="7.2" fill="#d0cfcf"/>
<circle cx="804" cy="403" r="7.2" fill="#d0cfcf"/>
<circle cx="819.3" cy="409.9" r="7.2" fill="#d0cfcf"/>
<circle cx="844.9" cy="415.8" r="7.2" fill="#d0cfcf"/>
<circle cx="878.9" cy="416.7" r="7.2" fill="#d0cfcf"/>
<circle cx="909.5" cy="426" r="7.2" fill="#d0cfcf"/>
<circle cx="909.3" cy="425.6" r="7.2" fill="#d0cfcf"/>
<circle cx="906" cy="433" r="7.2" fill="#d0cfcf"/>
<circle cx="947.9" cy="425.6" r="7.2" fill="#d0cfcf"/>
<circle cx="952.5" cy="424" r="7.2" fill="#d0cfcf"/>
<circle cx="946.3" cy="435.7" r="7.2" fill="#d0cfcf"/>
<circle cx="987.2" cy="420.2" r="7.2" fill="#d0cfcf"/>
<circle cx="969.5" cy="441" r="7.2" fill="#d0cfcf"/>
<circle cx="978.7" cy="439.5" r="7.2" fill="#d0cfcf"/>
<circle cx="989.5" cy="444.2" r="7.2" fill="#d0cfcf"/>
<circle cx="916.2" cy="445.7" r="7.2" fill="#d0cfcf"/>
<circle cx="1038.9" cy="428.7" r="7.2" fill="#d0cfcf"/>
<circle cx="1062.1" cy="424.9" r="7.2" fill="#d0cfcf"/>
<circle cx="1018.1" cy="445" r="7.2" fill="#d0cfcf"/>
<circle cx="1027.4" cy="453.4" r="7.2" fill="#d0cfcf"/>
<circle cx="900" cy="469" r="7.2" fill="#d0cfcf"/>
<circle cx="417.3" cy="414.1" r="6.4" fill="#e31b23" stroke="#c8141d" stroke-width="1.3"/>
<circle cx="432.6" cy="399.7" r="6.4" fill="#e31b23" stroke="#c8141d" stroke-width="1.3"/>
<circle cx="453.5" cy="396.3" r="6.4" fill="#e31b23" stroke="#c8141d" stroke-width="1.3"/>
<circle cx="478.2" cy="397.5" r="6.4" fill="#e31b23" stroke="#c8141d" stroke-width="1.3"/>
<circle cx="517.1" cy="384.4" r="6.4" fill="#e31b23" stroke="#c8141d" stroke-width="1.3"/>
<circle cx="464.1" cy="436.2" r="6.4" fill="#e31b23" stroke="#c8141d" stroke-width="1.3"/>
<circle cx="428.4" cy="449.5" r="6.4" fill="#e31b23" stroke="#c8141d" stroke-width="1.3"/>
<circle cx="526.2" cy="438.8" r="6.4" fill="#e31b23" stroke="#c8141d" stroke-width="1.3"/>
<circle cx="531.3" cy="440.5" r="6.4" fill="#e31b23" stroke="#c8141d" stroke-width="1.3"/>
<circle cx="516.8" cy="463.4" r="6.4" fill="#e31b23" stroke="#c8141d" stroke-width="1.3"/>
<circle cx="546.6" cy="463.8" r="6.4" fill="#e31b23" stroke="#c8141d" stroke-width="1.3"/>
<circle cx="595.9" cy="419.2" r="6.4" fill="#e31b23" stroke="#c8141d" stroke-width="1.3"/>
<circle cx="592.5" cy="445.1" r="6.4" fill="#e31b23" stroke="#c8141d" stroke-width="1.3"/>
<circle cx="611.9" cy="429.4" r="6.4" fill="#e31b23" stroke="#c8141d" stroke-width="1.3"/>
<circle cx="620.4" cy="426" r="6.4" fill="#e31b23" stroke="#c8141d" stroke-width="1.3"/>
<circle cx="632.3" cy="417.5" r="6.4" fill="#e31b23" stroke="#c8141d" stroke-width="1.3"/>
<circle cx="676.5" cy="415.8" r="6.4" fill="#e31b23" stroke="#c8141d" stroke-width="1.3"/>
<circle cx="730.1" cy="420.9" r="6.4" fill="#e31b23" stroke="#c8141d" stroke-width="1.3"/>
<circle cx="696.1" cy="445.6" r="6.4" fill="#e31b23" stroke="#c8141d" stroke-width="1.3"/>
<circle cx="710.5" cy="455" r="6.4" fill="#e31b23" stroke="#c8141d" stroke-width="1.3"/>
<circle cx="753.9" cy="437.1" r="6.4" fill="#e31b23" stroke="#c8141d" stroke-width="1.3"/>
<circle cx="759.8" cy="447.3" r="6.4" fill="#e31b23" stroke="#c8141d" stroke-width="1.3"/>
<circle cx="812.5" cy="460" r="6.4" fill="#e31b23" stroke="#c8141d" stroke-width="1.3"/>
<circle cx="821.9" cy="460" r="6.4" fill="#e31b23" stroke="#c8141d" stroke-width="1.3"/>
<circle cx="830.4" cy="439.6" r="6.4" fill="#e31b23" stroke="#c8141d" stroke-width="1.3"/>
<circle cx="849.1" cy="434.5" r="6.4" fill="#e31b23" stroke="#c8141d" stroke-width="1.3"/>
<circle cx="851.7" cy="431.1" r="6.4" fill="#e31b23" stroke="#c8141d" stroke-width="1.3"/>
<circle cx="960.2" cy="462.7" r="6.4" fill="#e31b23" stroke="#c8141d" stroke-width="1.3"/>
<line x1="174.4" y1="23" x2="174.4" y2="831" stroke="#000" stroke-width="2.1"/>
<line x1="174.4" y1="431.8" x2="1217.7" y2="431.8" stroke="#000" stroke-width="2.1"/>
<g font-family="'Liberation Sans', Arial, sans-serif" font-size="32.4" fill="#000">
<text x="161.8" y="53.8" text-anchor="end">1.2</text>
<text x="161.8" y="118.2" text-anchor="end">1</text>
<text x="161.8" y="182.6" text-anchor="end">0.8</text>
<text x="161.8" y="247" text-anchor="end">0.6</text>
<text x="161.8" y="311.4" text-anchor="end">0.4</text>
<text x="161.8" y="375.8" text-anchor="end">0.2</text>
<text x="161.8" y="440.2" text-anchor="end">0</text>
<text x="161.8" y="504.6" text-anchor="end">-0.2</text>
<text x="161.8" y="569" text-anchor="end">-0.4</text>
<text x="161.8" y="633.4" text-anchor="end">-0.6</text>
<text x="161.8" y="697.8" text-anchor="end">-0.8</text>
<text x="161.8" y="762.2" text-anchor="end">-1</text>
<text x="161.8" y="826.6" text-anchor="end">-1.2</text>
<text x="282.3" y="469.6" text-anchor="middle">6.5</text>
<text x="378" y="469.6" text-anchor="middle">7</text>
<text x="482" y="469.6" text-anchor="middle">7.5</text>
<text x="578.5" y="469.6" text-anchor="middle">8</text>
<text x="682.8" y="469.6" text-anchor="middle">8.5</text>
<text x="778.3" y="469.6" text-anchor="middle">9</text>
<text x="882" y="469.6" text-anchor="middle">9.5</text>
<text x="982" y="469.6" text-anchor="middle">10</text>
<text x="1087.2" y="469.6" text-anchor="middle">10.5</text>
<text x="1181.8" y="469.6" text-anchor="middle">11</text>
<text x="464.5" y="58.6">FIKK4.1 DMSO - FIKK4.1 RAP</text>
<text x="1090" y="422.6">Intensity</text>
<text transform="translate(80,425) rotate(-90)" text-anchor="middle">Log2FC</text>
</g>
<rect x="34" y="855" width="1210" height="842" fill="none" stroke="#000" stroke-width="2"/>
<g fill="#bfbfbf">
<circle cx="658.8" cy="1254.4" r="7.2"/>
<circle cx="443.3" cy="1294.7" r="7.2"/>
<circle cx="692.0" cy="1339.3" r="7.2"/>
<circle cx="482.4" cy="1270.8" r="7.2"/>
<circle cx="702.6" cy="1280.9" r="7.2"/>
<circle cx="471.9" cy="1300.5" r="7.2"/>
<circle cx="544.0" cy="1337.6" r="7.2"/>
<circle cx="520.2" cy="1330.0" r="7.2"/>
<circle cx="629.3" cy="1264.0" r="7.2"/>
<circle cx="437.2" cy="1302.5" r="7.2"/>
<circle cx="471.5" cy="1306.8" r="7.2"/>
<circle cx="692.1" cy="1279.6" r="7.2"/>
<circle cx="594.7" cy="1267.6" r="7.2"/>
<circle cx="808.9" cy="1287.3" r="7.2"/>
<circle cx="638.2" cy="1260.9" r="7.2"/>
<circle cx="825.9" cy="1295.4" r="7.2"/>
<circle cx="643.1" cy="1287.0" r="7.2"/>
<circle cx="720.1" cy="1301.3" r="7.2"/>
<circle cx="556.8" cy="1249.0" r="7.2"/>
<circle cx="439.4" cy="1333.1" r="7.2"/>
<circle cx="572.7" cy="1330.5" r="7.2"/>
<circle cx="455.7" cy="1269.2" r="7.2"/>
<circle cx="552.6" cy="1290.9" r="7.2"/>
<circle cx="424.2" cy="1347.9" r="7.2"/>
<circle cx="511.2" cy="1249.0" r="7.2"/>
<circle cx="503.0" cy="1311.4" r="7.2"/>
<circle cx="766.1" cy="1285.7" r="7.2"/>
<circle cx="521.0" cy="1245.0" r="7.2"/>
<circle cx="440.8" cy="1308.2" r="7.2"/>
<circle cx="744.6" cy="1311.1" r="7.2"/>
<circle cx="413.7" cy="1267.3" r="7.2"/>
<circle cx="468.5" cy="1280.4" r="7.2"/>
<circle cx="553.8" cy="1237.1" r="7.2"/>
<circle cx="413.0" cy="1289.6" r="7.2"/>
<circle cx="737.5" cy="1288.9" r="7.2"/>
<circle cx="799.6" cy="1299.4" r="7.2"/>
<circle cx="542.0" cy="1263.5" r="7.2"/>
<circle cx="774.3" cy="1296.1" r="7.2"/>
<circle cx="588.8" cy="1241.0" r="7.2"/>
<circle cx="781.4" cy="1272.2" r="7.2"/>
<circle cx="816.2" cy="1319.0" r="7.2"/>
<circle cx="705.7" cy="1290.7" r="7.2"/>
<circle cx="758.8" cy="1300.3" r="7.2"/>
<circle cx="449.3" cy="1276.5" r="7.2"/>
<circle cx="836.9" cy="1300.7" r="7.2"/>
<circle cx="584.9" cy="1330.2" r="7.2"/>
<circle cx="689.6" cy="1283.6" r="7.2"/>
<circle cx="432.5" cy="1277.9" r="7.2"/>
<circle cx="534.0" cy="1301.3" r="7.2"/>
<circle cx="683.6" cy="1261.5" r="7.2"/>
<circle cx="425.4" cy="1247.0" r="7.2"/>
<circle cx="679.0" cy="1280.6" r="7.2"/>
<circle cx="416.1" cy="1338.2" r="7.2"/>
<circle cx="871.5" cy="1292.4" r="7.2"/>
<circle cx="625.2" cy="1280.7" r="7.2"/>
<circle cx="730.8" cy="1244.6" r="7.2"/>
<circle cx="494.5" cy="1257.0" r="7.2"/>
<circle cx="538.8" cy="1291.3" r="7.2"/>
<circle cx="563.8" cy="1308.4" r="7.2"/>
<circle cx="774.4" cy="1323.4" r="7.2"/>
<circle cx="816.2" cy="1269.9" r="7.2"/>
<circle cx="675.0" cy="1325.3" r="7.2"/>
<circle cx="478.8" cy="1258.8" r="7.2"/>
<circle cx="701.7" cy="1248.0" r="7.2"/>
<circle cx="472.0" cy="1301.3" r="7.2"/>
<circle cx="583.8" cy="1235.9" r="7.2"/>
<circle cx="756.8" cy="1321.4" r="7.2"/>
<circle cx="447.5" cy="1256.7" r="7.2"/>
<circle cx="569.5" cy="1265.9" r="7.2"/>
<circle cx="627.2" cy="1335.4" r="7.2"/>
<circle cx="467.2" cy="1282.1" r="7.2"/>
<circle cx="719.7" cy="1286.4" r="7.2"/>
<circle cx="453.0" cy="1287.1" r="7.2"/>
<circle cx="602.9" cy="1330.2" r="7.2"/>
<circle cx="588.5" cy="1279.6" r="7.2"/>
<circle cx="520.4" cy="1298.5" r="7.2"/>
<circle cx="447.8" cy="1320.4" r="7.2"/>
<circle cx="463.9" cy="1242.3" r="7.2"/>
<circle cx="765.4" cy="1310.6" r="7.2"/>
<circle cx="500.0" cy="1301.2" r="7.2"/>
<circle cx="755.2" cy="1319.5" r="7.2"/>
<circle cx="841.1" cy="1271.0" r="7.2"/>
<circle cx="517.3" cy="1301.3" r="7.2"/>
<circle cx="563.5" cy="1273.6" r="7.2"/>
<circle cx="699.3" cy="1274.6" r="7.2"/>
<circle cx="420.6" cy="1258.2" r="7.2"/>
<circle cx="634.6" cy="1311.8" r="7.2"/>
<circle cx="737.1" cy="1281.0" r="7.2"/>
<circle cx="737.3" cy="1334.9" r="7.2"/>
<circle cx="747.5" cy="1319.6" r="7.2"/>
<circle cx="746.7" cy="1254.7" r="7.2"/>
<circle cx="457.0" cy="1285.3" r="7.2"/>
<circle cx="380.2" cy="1280.3" r="7.2"/>
<circle cx="483.3" cy="1324.0" r="7.2"/>
<circle cx="486.1" cy="1285.0" r="7.2"/>
<circle cx="710.7" cy="1252.4" r="7.2"/>
<circle cx="401.1" cy="1258.6" r="7.2"/>
<circle cx="441.4" cy="1274.1" r="7.2"/>
<circle cx="442.8" cy="1356.8" r="7.2"/>
<circle cx="392.7" cy="1264.1" r="7.2"/>
<circle cx="737.7" cy="1253.3" r="7.2"/>
<circle cx="423.3" cy="1290.8" r="7.2"/>
<circle cx="508.1" cy="1315.2" r="7.2"/>
<circle cx="808.3" cy="1305.0" r="7.2"/>
<circle cx="849.9" cy="1292.6" r="7.2"/>
<circle cx="854.2" cy="1297.9" r="7.2"/>
<circle cx="588.4" cy="1248.6" r="7.2"/>
<circle cx="539.5" cy="1266.4" r="7.2"/>
<circle cx="830.8" cy="1274.4" r="7.2"/>
<circle cx="565.4" cy="1325.0" r="7.2"/>
<circle cx="715.6" cy="1241.6" r="7.2"/>
<circle cx="689.4" cy="1248.0" r="7.2"/>
<circle cx="460.0" cy="1275.1" r="7.2"/>
<circle cx="537.5" cy="1254.4" r="7.2"/>
<circle cx="469.8" cy="1266.3" r="7.2"/>
<circle cx="679.3" cy="1250.2" r="7.2"/>
<circle cx="760.1" cy="1261.8" r="7.2"/>
<circle cx="659.8" cy="1271.4" r="7.2"/>
<circle cx="496.7" cy="1259.3" r="7.2"/>
<circle cx="822.2" cy="1266.5" r="7.2"/>
<circle cx="567.0" cy="1245.7" r="7.2"/>
<circle cx="444.1" cy="1312.1" r="7.2"/>
<circle cx="510.8" cy="1281.7" r="7.2"/>
<circle cx="459.2" cy="1293.7" r="7.2"/>
<circle cx="718.8" cy="1334.2" r="7.2"/>
<circle cx="542.9" cy="1312.7" r="7.2"/>
<circle cx="691.7" cy="1263.2" r="7.2"/>
<circle cx="712.4" cy="1250.7" r="7.2"/>
<circle cx="826.3" cy="1282.3" r="7.2"/>
<circle cx="540.6" cy="1266.1" r="7.2"/>
<circle cx="662.0" cy="1318.0" r="7.2"/>
<circle cx="423.2" cy="1261.4" r="7.2"/>
<circle cx="460.5" cy="1294.1" r="7.2"/>
<circle cx="823.8" cy="1268.5" r="7.2"/>
<circle cx="459.1" cy="1285.0" r="7.2"/>
<circle cx="465.4" cy="1350.1" r="7.2"/>
<circle cx="668.0" cy="1320.1" r="7.2"/>
<circle cx="791.1" cy="1299.7" r="7.2"/>
<circle cx="848.1" cy="1306.7" r="7.2"/>
<circle cx="472.3" cy="1293.8" r="7.2"/>
<circle cx="699.9" cy="1262.3" r="7.2"/>
<circle cx="501.6" cy="1308.7" r="7.2"/>
<circle cx="604.2" cy="1264.6" r="7.2"/>
<circle cx="591.0" cy="1335.3" r="7.2"/>
<circle cx="620.8" cy="1244.9" r="7.2"/>
<circle cx="708.8" cy="1265.8" r="7.2"/>
<circle cx="768.0" cy="1280.2" r="7.2"/>
<circle cx="661.9" cy="1310.4" r="7.2"/>
<circle cx="629.6" cy="1296.1" r="7.2"/>
<circle cx="487.4" cy="1319.8" r="7.2"/>
<circle cx="457.1" cy="1282.7" r="7.2"/>
<circle cx="651.6" cy="1305.2" r="7.2"/>
<circle cx="595.2" cy="1317.9" r="7.2"/>
<circle cx="812.7" cy="1322.4" r="7.2"/>
<circle cx="533.1" cy="1237.2" r="7.2"/>
<circle cx="608.7" cy="1314.9" r="7.2"/>
<circle cx="454.5" cy="1291.2" r="7.2"/>
<circle cx="525.8" cy="1257.8" r="7.2"/>
<circle cx="875.8" cy="1293.2" r="7.2"/>
<circle cx="757.4" cy="1324.9" r="7.2"/>
<circle cx="537.8" cy="1287.3" r="7.2"/>
<circle cx="725.7" cy="1304.1" r="7.2"/>
<circle cx="720.2" cy="1294.9" r="7.2"/>
<circle cx="674.4" cy="1271.7" r="7.2"/>
<circle cx="458.0" cy="1235.8" r="7.2"/>
<circle cx="671.7" cy="1272.2" r="7.2"/>
<circle cx="411.5" cy="1285.8" r="7.2"/>
<circle cx="711.9" cy="1283.6" r="7.2"/>
<circle cx="733.5" cy="1273.0" r="7.2"/>
<circle cx="510.7" cy="1305.9" r="7.2"/>
<circle cx="846.8" cy="1302.1" r="7.2"/>
<circle cx="647.6" cy="1292.3" r="7.2"/>
<circle cx="703.0" cy="1328.0" r="7.2"/>
<circle cx="506.2" cy="1298.2" r="7.2"/>
<circle cx="747.8" cy="1330.2" r="7.2"/>
<circle cx="800.7" cy="1292.6" r="7.2"/>
<circle cx="456.6" cy="1295.5" r="7.2"/>
<circle cx="754.7" cy="1315.4" r="7.2"/>
<circle cx="626.7" cy="1310.8" r="7.2"/>
<circle cx="514.3" cy="1301.3" r="7.2"/>
<circle cx="668.7" cy="1251.2" r="7.2"/>
<circle cx="770.3" cy="1260.6" r="7.2"/>
<circle cx="720.4" cy="1253.4" r="7.2"/>
<circle cx="431.2" cy="1284.5" r="7.2"/>
<circle cx="815.0" cy="1274.4" r="7.2"/>
<circle cx="418.1" cy="1283.4" r="7.2"/>
<circle cx="575.8" cy="1268.8" r="7.2"/>
<circle cx="675.0" cy="1315.7" r="7.2"/>
<circle cx="681.2" cy="1245.8" r="7.2"/>
<circle cx="452.3" cy="1340.7" r="7.2"/>
<circle cx="431.8" cy="1331.1" r="7.2"/>
<circle cx="552.2" cy="1281.1" r="7.2"/>
<circle cx="481.3" cy="1340.2" r="7.2"/>
<circle cx="609.9" cy="1231.7" r="7.2"/>
<circle cx="513.5" cy="1277.5" r="7.2"/>
<circle cx="484.7" cy="1238.5" r="7.2"/>
<circle cx="829.0" cy="1269.7" r="7.2"/>
<circle cx="673.0" cy="1295.2" r="7.2"/>
<circle cx="664.7" cy="1331.2" r="7.2"/>
<circle cx="608.7" cy="1329.6" r="7.2"/>
<circle cx="411.0" cy="1275.8" r="7.2"/>
<circle cx="611.8" cy="1323.2" r="7.2"/>
<circle cx="777.9" cy="1331.1" r="7.2"/>
<circle cx="552.9" cy="1303.3" r="7.2"/>
<circle cx="694.6" cy="1326.7" r="7.2"/>
<circle cx="655.9" cy="1286.8" r="7.2"/>
<circle cx="421.1" cy="1345.9" r="7.2"/>
<circle cx="428.4" cy="1343.4" r="7.2"/>
<circle cx="765.1" cy="1267.5" r="7.2"/>
<circle cx="631.7" cy="1266.8" r="7.2"/>
<circle cx="663.5" cy="1248.5" r="7.2"/>
<circle cx="474.8" cy="1287.4" r="7.2"/>
<circle cx="565.4" cy="1336.5" r="7.2"/>
<circle cx="518.3" cy="1257.0" r="7.2"/>
<circle cx="477.7" cy="1275.0" r="7.2"/>
<circle cx="637.5" cy="1326.8" r="7.2"/>
<circle cx="508.7" cy="1236.0" r="7.2"/>
<circle cx="516.2" cy="1279.2" r="7.2"/>
<circle cx="519.5" cy="1251.9" r="7.2"/>
<circle cx="527.7" cy="1329.8" r="7.2"/>
<circle cx="518.9" cy="1272.9" r="7.2"/>
<circle cx="470.2" cy="1274.4" r="7.2"/>
<circle cx="716.8" cy="1315.6" r="7.2"/>
<circle cx="525.4" cy="1340.5" r="7.2"/>
<circle cx="477.5" cy="1302.2" r="7.2"/>
<circle cx="729.7" cy="1291.0" r="7.2"/>
<circle cx="645.0" cy="1283.7" r="7.2"/>
<circle cx="412.3" cy="1280.6" r="7.2"/>
<circle cx="562.9" cy="1252.9" r="7.2"/>
<circle cx="465.4" cy="1242.5" r="7.2"/>
<circle cx="491.3" cy="1308.6" r="7.2"/>
<circle cx="476.1" cy="1242.1" r="7.2"/>
<circle cx="672.1" cy="1251.0" r="7.2"/>
<circle cx="438.8" cy="1251.5" r="7.2"/>
<circle cx="602.4" cy="1302.0" r="7.2"/>
<circle cx="743.3" cy="1257.0" r="7.2"/>
<circle cx="384.1" cy="1290.6" r="7.2"/>
<circle cx="513.4" cy="1281.4" r="7.2"/>
<circle cx="856.2" cy="1287.6" r="7.2"/>
<circle cx="406.6" cy="1336.0" r="7.2"/>
<circle cx="478.4" cy="1285.2" r="7.2"/>
<circle cx="411.7" cy="1268.8" r="7.2"/>
<circle cx="453.8" cy="1314.9" r="7.2"/>
<circle cx="719.9" cy="1281.3" r="7.2"/>
<circle cx="537.0" cy="1247.0" r="7.2"/>
<circle cx="532.1" cy="1244.7" r="7.2"/>
<circle cx="598.5" cy="1250.8" r="7.2"/>
<circle cx="791.8" cy="1315.7" r="7.2"/>
<circle cx="464.2" cy="1285.5" r="7.2"/>
<circle cx="382.7" cy="1299.7" r="7.2"/>
<circle cx="580.3" cy="1229.7" r="7.2"/>
<circle cx="830.1" cy="1298.7" r="7.2"/>
<circle cx="452.2" cy="1281.6" r="7.2"/>
<circle cx="424.8" cy="1280.2" r="7.2"/>
<circle cx="610.8" cy="1241.4" r="7.2"/>
<circle cx="523.0" cy="1286.4" r="7.2"/>
<circle cx="665.6" cy="1324.3" r="7.2"/>
<circle cx="584.4" cy="1312.1" r="7.2"/>
<circle cx="625.3" cy="1290.7" r="7.2"/>
<circle cx="442.0" cy="1282.2" r="7.2"/>
<circle cx="646.2" cy="1295.8" r="7.2"/>
<circle cx="520.3" cy="1235.8" r="7.2"/>
<circle cx="559.4" cy="1232.7" r="7.2"/>
<circle cx="474.9" cy="1239.9" r="7.2"/>
<circle cx="435.9" cy="1257.6" r="7.2"/>
<circle cx="624.3" cy="1274.2" r="7.2"/>
<circle cx="526.1" cy="1277.6" r="7.2"/>
<circle cx="708.1" cy="1337.1" r="7.2"/>
<circle cx="495.7" cy="1296.6" r="7.2"/>
<circle cx="795.8" cy="1257.4" r="7.2"/>
<circle cx="420.7" cy="1263.6" r="7.2"/>
<circle cx="709.1" cy="1328.2" r="7.2"/>
<circle cx="741.2" cy="1290.7" r="7.2"/>
<circle cx="631.2" cy="1269.1" r="7.2"/>
<circle cx="799.7" cy="1288.9" r="7.2"/>
<circle cx="856.7" cy="1297.4" r="7.2"/>
<circle cx="544.5" cy="1253.9" r="7.2"/>
<circle cx="584.2" cy="1247.4" r="7.2"/>
<circle cx="473.5" cy="1260.3" r="7.2"/>
<circle cx="538.1" cy="1230.6" r="7.2"/>
<circle cx="519.0" cy="1330.0" r="7.2"/>
<circle cx="546.6" cy="1277.3" r="7.2"/>
<circle cx="492.9" cy="1267.8" r="7.2"/>
<circle cx="767.8" cy="1308.7" r="7.2"/>
<circle cx="632.8" cy="1245.8" r="7.2"/>
<circle cx="595.3" cy="1319.3" r="7.2"/>
<circle cx="691.4" cy="1246.7" r="7.2"/>
<circle cx="797.1" cy="1299.1" r="7.2"/>
<circle cx="660.0" cy="1296.9" r="7.2"/>
<circle cx="819.7" cy="1316.1" r="7.2"/>
<circle cx="666.4" cy="1337.8" r="7.2"/>
<circle cx="615.4" cy="1235.9" r="7.2"/>
<circle cx="625.0" cy="1308.1" r="7.2"/>
<circle cx="588.7" cy="1333.3" r="7.2"/>
<circle cx="773.9" cy="1249.8" r="7.2"/>
<circle cx="773.9" cy="1291.3" r="7.2"/>
<circle cx="507.2" cy="1339.1" r="7.2"/>
<circle cx="690.1" cy="1303.3" r="7.2"/>
<circle cx="705.5" cy="1293.5" r="7.2"/>
<circle cx="502.9" cy="1311.7" r="7.2"/>
<circle cx="795.7" cy="1307.0" r="7.2"/>
<circle cx="686.6" cy="1240.8" r="7.2"/>
<circle cx="739.5" cy="1326.0" r="7.2"/>
<circle cx="673.5" cy="1242.8" r="7.2"/>
<circle cx="594.8" cy="1300.1" r="7.2"/>
<circle cx="865.0" cy="1301.2" r="7.2"/>
<circle cx="759.4" cy="1330.8" r="7.2"/>
<circle cx="760.9" cy="1333.9" r="7.2"/>
<circle cx="732.0" cy="1277.8" r="7.2"/>
<circle cx="688.8" cy="1286.2" r="7.2"/>
<circle cx="652.6" cy="1301.1" r="7.2"/>
<circle cx="385.0" cy="1284.3" r="7.2"/>
<circle cx="645.7" cy="1338.1" r="7.2"/>
<circle cx="615.3" cy="1273.7" r="7.2"/>
<circle cx="555.4" cy="1245.7" r="7.2"/>
<circle cx="810.3" cy="1271.0" r="7.2"/>
<circle cx="424.7" cy="1282.1" r="7.2"/>
<circle cx="571.1" cy="1291.3" r="7.2"/>
<circle cx="589.5" cy="1320.5" r="7.2"/>
<circle cx="833.2" cy="1275.5" r="7.2"/>
<circle cx="542.1" cy="1303.7" r="7.2"/>
<circle cx="548.6" cy="1323.4" r="7.2"/>
<circle cx="606.9" cy="1243.1" r="7.2"/>
<circle cx="756.5" cy="1272.6" r="7.2"/>
<circle cx="555.3" cy="1247.1" r="7.2"/>
<circle cx="512.7" cy="1302.5" r="7.2"/>
<circle cx="826.0" cy="1313.5" r="7.2"/>
<circle cx="540.3" cy="1302.6" r="7.2"/>
<circle cx="588.3" cy="1305.8" r="7.2"/>
<circle cx="583.1" cy="1315.6" r="7.2"/>
<circle cx="535.9" cy="1315.3" r="7.2"/>
<circle cx="760.5" cy="1314.3" r="7.2"/>
<circle cx="476.4" cy="1232.8" r="7.2"/>
<circle cx="474.3" cy="1322.9" r="7.2"/>
<circle cx="437.4" cy="1337.0" r="7.2"/>
<circle cx="657.6" cy="1295.5" r="7.2"/>
<circle cx="814.1" cy="1291.0" r="7.2"/>
<circle cx="648.7" cy="1328.3" r="7.2"/>
<circle cx="866.5" cy="1297.1" r="7.2"/>
<circle cx="722.4" cy="1318.8" r="7.2"/>
<circle cx="467.6" cy="1301.8" r="7.2"/>
<circle cx="620.6" cy="1327.5" r="7.2"/>
<circle cx="618.3" cy="1295.7" r="7.2"/>
<circle cx="616.3" cy="1281.0" r="7.2"/>
<circle cx="680.3" cy="1269.7" r="7.2"/>
<circle cx="598.2" cy="1319.4" r="7.2"/>
<circle cx="597.4" cy="1273.8" r="7.2"/>
<circle cx="759.0" cy="1258.2" r="7.2"/>
<circle cx="613.6" cy="1292.2" r="7.2"/>
<circle cx="788.6" cy="1280.2" r="7.2"/>
<circle cx="704.6" cy="1250.1" r="7.2"/>
<circle cx="722.1" cy="1321.7" r="7.2"/>
<circle cx="401.8" cy="1281.6" r="7.2"/>
<circle cx="710.1" cy="1266.4" r="7.2"/>
<circle cx="809.9" cy="1307.5" r="7.2"/>
<circle cx="690.4" cy="1288.0" r="7.2"/>
<circle cx="463.9" cy="1246.4" r="7.2"/>
<circle cx="477.1" cy="1261.6" r="7.2"/>
<circle cx="579.3" cy="1246.3" r="7.2"/>
<circle cx="787.2" cy="1285.3" r="7.2"/>
<circle cx="558.4" cy="1254.2" r="7.2"/>
<circle cx="552.3" cy="1304.6" r="7.2"/>
<circle cx="506.3" cy="1266.0" r="7.2"/>
<circle cx="671.5" cy="1337.9" r="7.2"/>
<circle cx="664.4" cy="1320.4" r="7.2"/>
<circle cx="415.5" cy="1306.2" r="7.2"/>
<circle cx="494.7" cy="1263.2" r="7.2"/>
<circle cx="476.8" cy="1321.3" r="7.2"/>
<circle cx="553.0" cy="1301.0" r="7.2"/>
<circle cx="831.5" cy="1275.2" r="7.2"/>
<circle cx="496.6" cy="1277.5" r="7.2"/>
<circle cx="427.1" cy="1269.9" r="7.2"/>
<circle cx="715.7" cy="1326.1" r="7.2"/>
<circle cx="499.0" cy="1312.6" r="7.2"/>
<circle cx="612.5" cy="1291.7" r="7.2"/>
<circle cx="537.7" cy="1248.9" r="7.2"/>
<circle cx="597.1" cy="1311.6" r="7.2"/>
<circle cx="728.0" cy="1273.8" r="7.2"/>
<circle cx="674.1" cy="1241.9" r="7.2"/>
<circle cx="635.5" cy="1324.2" r="7.2"/>
<circle cx="495.1" cy="1328.6" r="7.2"/>
<circle cx="770.9" cy="1257.1" r="7.2"/>
<circle cx="405.2" cy="1300.1" r="7.2"/>
<circle cx="419.0" cy="1293.5" r="7.2"/>
<circle cx="787.3" cy="1274.1" r="7.2"/>
<circle cx="786.2" cy="1260.1" r="7.2"/>
<circle cx="505.2" cy="1243.3" r="7.2"/>
<circle cx="441.4" cy="1256.1" r="7.2"/>
<circle cx="615.2" cy="1230.5" r="7.2"/>
<circle cx="829.8" cy="1268.7" r="7.2"/>
<circle cx="481.9" cy="1345.0" r="7.2"/>
<circle cx="597.2" cy="1312.4" r="7.2"/>
<circle cx="408.5" cy="1323.9" r="7.2"/>
<circle cx="473.8" cy="1287.2" r="7.2"/>
<circle cx="564.0" cy="1312.4" r="7.2"/>
<circle cx="504.6" cy="1323.8" r="7.2"/>
<circle cx="792.1" cy="1270.2" r="7.2"/>
<circle cx="752.6" cy="1328.9" r="7.2"/>
<circle cx="576.4" cy="1251.4" r="7.2"/>
<circle cx="641.7" cy="1267.7" r="7.2"/>
<circle cx="644.7" cy="1307.7" r="7.2"/>
<circle cx="500.3" cy="1277.9" r="7.2"/>
<circle cx="701.2" cy="1255.4" r="7.2"/>
<circle cx="774.7" cy="1325.7" r="7.2"/>
<circle cx="594.9" cy="1296.0" r="7.2"/>
<circle cx="685.3" cy="1278.4" r="7.2"/>
<circle cx="595.2" cy="1305.6" r="7.2"/>
<circle cx="799.7" cy="1317.3" r="7.2"/>
<circle cx="464.5" cy="1307.8" r="7.2"/>
<circle cx="554.6" cy="1280.5" r="7.2"/>
<circle cx="563.2" cy="1255.6" r="7.2"/>
<circle cx="465.3" cy="1303.7" r="7.2"/>
<circle cx="584.8" cy="1289.9" r="7.2"/>
<circle cx="662.2" cy="1260.0" r="7.2"/>
<circle cx="408.0" cy="1316.1" r="7.2"/>
<circle cx="803.0" cy="1263.4" r="7.2"/>
<circle cx="563.5" cy="1278.0" r="7.2"/>
<circle cx="750.6" cy="1326.7" r="7.2"/>
<circle cx="836.2" cy="1298.0" r="7.2"/>
<circle cx="710.8" cy="1243.6" r="7.2"/>
<circle cx="459.2" cy="1253.9" r="7.2"/>
<circle cx="401.6" cy="1290.4" r="7.2"/>
<circle cx="424.3" cy="1268.9" r="7.2"/>
<circle cx="466.7" cy="1325.9" r="7.2"/>
<circle cx="498.7" cy="1275.0" r="7.2"/>
<circle cx="483.3" cy="1292.7" r="7.2"/>
<circle cx="414.0" cy="1338.1" r="7.2"/>
<circle cx="659.8" cy="1297.3" r="7.2"/>
<circle cx="638.4" cy="1271.0" r="7.2"/>
<circle cx="493.0" cy="1278.6" r="7.2"/>
<circle cx="383.3" cy="1296.5" r="7.2"/>
<circle cx="744.8" cy="1327.4" r="7.2"/>
<circle cx="700.1" cy="1296.7" r="7.2"/>
<circle cx="513.4" cy="1287.0" r="7.2"/>
<circle cx="548.3" cy="1325.3" r="7.2"/>
<circle cx="714.4" cy="1321.8" r="7.2"/>
<circle cx="545.8" cy="1321.4" r="7.2"/>
<circle cx="493.2" cy="1298.2" r="7.2"/>
<circle cx="691.9" cy="1337.7" r="7.2"/>
<circle cx="576.8" cy="1253.2" r="7.2"/>
<circle cx="635.9" cy="1248.8" r="7.2"/>
<circle cx="655.7" cy="1245.8" r="7.2"/>
<circle cx="539.3" cy="1262.0" r="7.2"/>
<circle cx="696.5" cy="1287.0" r="7.2"/>
<circle cx="561.0" cy="1302.2" r="7.2"/>
<circle cx="545.3" cy="1239.3" r="7.2"/>
<circle cx="637.3" cy="1324.0" r="7.2"/>
<circle cx="755.3" cy="1297.6" r="7.2"/>
<circle cx="669.3" cy="1327.9" r="7.2"/>
<circle cx="569.8" cy="1275.3" r="7.2"/>
<circle cx="577.4" cy="1317.5" r="7.2"/>
<circle cx="635.0" cy="1317.4" r="7.2"/>
<circle cx="633.6" cy="1245.8" r="7.2"/>
<circle cx="612.6" cy="1314.2" r="7.2"/>
<circle cx="741.4" cy="1313.0" r="7.2"/>
<circle cx="714.0" cy="1318.4" r="7.2"/>
<circle cx="590.5" cy="1334.7" r="7.2"/>
<circle cx="534.7" cy="1290.9" r="7.2"/>
<circle cx="582.5" cy="1291.1" r="7.2"/>
<circle cx="535.8" cy="1302.8" r="7.2"/>
<circle cx="665.1" cy="1263.3" r="7.2"/>
<circle cx="791.5" cy="1282.8" r="7.2"/>
<circle cx="559.4" cy="1308.3" r="7.2"/>
<circle cx="721.9" cy="1301.8" r="7.2"/>
<circle cx="655.4" cy="1328.9" r="7.2"/>
<circle cx="641.3" cy="1287.7" r="7.2"/>
<circle cx="631.9" cy="1255.0" r="7.2"/>
<circle cx="519.4" cy="1262.7" r="7.2"/>
<circle cx="796.4" cy="1291.1" r="7.2"/>
<circle cx="596.4" cy="1277.0" r="7.2"/>
<circle cx="505.2" cy="1307.9" r="7.2"/>
<circle cx="649.4" cy="1303.6" r="7.2"/>
<circle cx="621.1" cy="1246.8" r="7.2"/>
<circle cx="720.2" cy="1326.5" r="7.2"/>
<circle cx="675.2" cy="1257.2" r="7.2"/>
<circle cx="757.2" cy="1278.4" r="7.2"/>
<circle cx="695.2" cy="1270.2" r="7.2"/>
<circle cx="550.2" cy="1250.3" r="7.2"/>
<circle cx="588.7" cy="1262.3" r="7.2"/>
<circle cx="533.3" cy="1273.3" r="7.2"/>
<circle cx="774.7" cy="1293.2" r="7.2"/>
<circle cx="527.8" cy="1320.4" r="7.2"/>
<circle cx="738.0" cy="1258.3" r="7.2"/>
<circle cx="750.3" cy="1265.1" r="7.2"/>
<circle cx="713.3" cy="1317.3" r="7.2"/>
<circle cx="615.4" cy="1321.6" r="7.2"/>
<circle cx="713.0" cy="1313.7" r="7.2"/>
<circle cx="703.8" cy="1302.8" r="7.2"/>
<circle cx="736.6" cy="1273.7" r="7.2"/>
<circle cx="596.5" cy="1314.4" r="7.2"/>
<circle cx="595.4" cy="1315.9" r="7.2"/>
<circle cx="543.2" cy="1275.6" r="7.2"/>
<circle cx="718.2" cy="1329.2" r="7.2"/>
<circle cx="723.3" cy="1306.6" r="7.2"/>
<circle cx="584.0" cy="1320.0" r="7.2"/>
<circle cx="520.4" cy="1274.7" r="7.2"/>
<circle cx="590.6" cy="1235.6" r="7.2"/>
<circle cx="741.6" cy="1296.8" r="7.2"/>
<circle cx="692.4" cy="1333.8" r="7.2"/>
<circle cx="624.6" cy="1288.5" r="7.2"/>
<circle cx="624.4" cy="1290.0" r="7.2"/>
<circle cx="539.2" cy="1275.9" r="7.2"/>
<circle cx="515.3" cy="1262.1" r="7.2"/>
<circle cx="673.4" cy="1299.5" r="7.2"/>
<circle cx="572.9" cy="1327.6" r="7.2"/>
<circle cx="552.6" cy="1236.7" r="7.2"/>
<circle cx="708.2" cy="1260.5" r="7.2"/>
<circle cx="528.4" cy="1265.9" r="7.2"/>
<circle cx="719.6" cy="1325.7" r="7.2"/>
<circle cx="616.9" cy="1293.3" r="7.2"/>
<circle cx="723.8" cy="1256.8" r="7.2"/>
<circle cx="586.5" cy="1315.8" r="7.2"/>
<circle cx="661.3" cy="1274.4" r="7.2"/>
<circle cx="731.0" cy="1276.6" r="7.2"/>
<circle cx="572.7" cy="1240.1" r="7.2"/>
<circle cx="617.0" cy="1322.9" r="7.2"/>
<circle cx="516.1" cy="1269.5" r="7.2"/>
<circle cx="542.1" cy="1267.0" r="7.2"/>
<circle cx="502.9" cy="1324.0" r="7.2"/>
<circle cx="623.1" cy="1262.5" r="7.2"/>
<circle cx="753.6" cy="1332.9" r="7.2"/>
<circle cx="546.8" cy="1267.7" r="7.2"/>
<circle cx="694.8" cy="1273.0" r="7.2"/>
<circle cx="584.6" cy="1259.1" r="7.2"/>
<circle cx="569.5" cy="1236.3" r="7.2"/>
<circle cx="620.7" cy="1248.5" r="7.2"/>
<circle cx="656.2" cy="1299.7" r="7.2"/>
<circle cx="612.4" cy="1326.1" r="7.2"/>
<circle cx="689.0" cy="1258.2" r="7.2"/>
<circle cx="584.3" cy="1327.7" r="7.2"/>
<circle cx="746.6" cy="1296.0" r="7.2"/>
<circle cx="585.9" cy="1271.4" r="7.2"/>
<circle cx="598.9" cy="1272.4" r="7.2"/>
<circle cx="775.6" cy="1326.3" r="7.2"/>
<circle cx="563.5" cy="1266.9" r="7.2"/>
<circle cx="498.2" cy="1315.9" r="7.2"/>
<circle cx="638.9" cy="1249.3" r="7.2"/>
<circle cx="592.5" cy="1337.6" r="7.2"/>
<circle cx="762.7" cy="1266.2" r="7.2"/>
<circle cx="629.8" cy="1249.8" r="7.2"/>
<circle cx="722.4" cy="1300.3" r="7.2"/>
<circle cx="614.5" cy="1309.1" r="7.2"/>
<circle cx="681.7" cy="1269.7" r="7.2"/>
<circle cx="560.1" cy="1326.2" r="7.2"/>
<circle cx="624.8" cy="1278.6" r="7.2"/>
<circle cx="506.4" cy="1303.1" r="7.2"/>
<circle cx="682.4" cy="1282.4" r="7.2"/>
<circle cx="725.4" cy="1329.5" r="7.2"/>
<circle cx="674.0" cy="1309.1" r="7.2"/>
<circle cx="637.0" cy="1270.7" r="7.2"/>
<circle cx="631.9" cy="1327.8" r="7.2"/>
<circle cx="581.1" cy="1235.3" r="7.2"/>
<circle cx="610.3" cy="1266.3" r="7.2"/>
<circle cx="682.3" cy="1251.6" r="7.2"/>
<circle cx="591.3" cy="1261.1" r="7.2"/>
<circle cx="610.8" cy="1335.7" r="7.2"/>
<circle cx="784.6" cy="1276.0" r="7.2"/>
<circle cx="712.8" cy="1295.1" r="7.2"/>
<circle cx="545.4" cy="1294.2" r="7.2"/>
<circle cx="710.2" cy="1273.5" r="7.2"/>
<circle cx="737.7" cy="1295.8" r="7.2"/>
<circle cx="613.6" cy="1294.9" r="7.2"/>
<circle cx="774.0" cy="1259.1" r="7.2"/>
<circle cx="517.7" cy="1266.5" r="7.2"/>
<circle cx="512.1" cy="1287.5" r="7.2"/>
<circle cx="787.4" cy="1271.5" r="7.2"/>
<circle cx="642.7" cy="1302.1" r="7.2"/>
<circle cx="632.9" cy="1292.0" r="7.2"/>
<circle cx="544.3" cy="1255.9" r="7.2"/>
<circle cx="607.8" cy="1279.7" r="7.2"/>
<circle cx="722.4" cy="1274.3" r="7.2"/>
<circle cx="676.3" cy="1336.1" r="7.2"/>
<circle cx="600.4" cy="1272.8" r="7.2"/>
<circle cx="708.8" cy="1263.0" r="7.2"/>
<circle cx="672.9" cy="1297.3" r="7.2"/>
<circle cx="542.8" cy="1297.9" r="7.2"/>
<circle cx="601.5" cy="1265.6" r="7.2"/>
<circle cx="605.0" cy="1242.8" r="7.2"/>
<circle cx="736.6" cy="1266.5" r="7.2"/>
<circle cx="588.0" cy="1284.4" r="7.2"/>
<circle cx="609.0" cy="1233.9" r="7.2"/>
<circle cx="701.4" cy="1268.9" r="7.2"/>
<circle cx="616.2" cy="1260.8" r="7.2"/>
<circle cx="773.7" cy="1303.6" r="7.2"/>
<circle cx="636.8" cy="1275.5" r="7.2"/>
<circle cx="568.3" cy="1307.1" r="7.2"/>
<circle cx="657.8" cy="1293.2" r="7.2"/>
<circle cx="574.0" cy="1255.6" r="7.2"/>
<circle cx="657.2" cy="1323.9" r="7.2"/>
<circle cx="626.0" cy="1316.5" r="7.2"/>
<circle cx="723.2" cy="1333.1" r="7.2"/>
<circle cx="553.8" cy="1263.9" r="7.2"/>
<circle cx="620.6" cy="1302.4" r="7.2"/>
<circle cx="543.6" cy="1274.3" r="7.2"/>
<circle cx="588.5" cy="1278.7" r="7.2"/>
<circle cx="779.6" cy="1300.7" r="7.2"/>
<circle cx="551.9" cy="1325.5" r="7.2"/>
<circle cx="618.1" cy="1306.3" r="7.2"/>
<circle cx="768.3" cy="1266.0" r="7.2"/>
<circle cx="674.7" cy="1261.6" r="7.2"/>
<circle cx="743.0" cy="1279.4" r="7.2"/>
<circle cx="580.9" cy="1261.9" r="7.2"/>
<circle cx="517.9" cy="1327.3" r="7.2"/>
<circle cx="694.5" cy="1318.6" r="7.2"/>
<circle cx="741.1" cy="1327.2" r="7.2"/>
<circle cx="775.0" cy="1273.1" r="7.2"/>
<circle cx="579.2" cy="1313.4" r="7.2"/>
<circle cx="769.9" cy="1316.9" r="7.2"/>
<circle cx="700.0" cy="1267.5" r="7.2"/>
<circle cx="611.8" cy="1236.5" r="7.2"/>
<circle cx="712.1" cy="1316.8" r="7.2"/>
<circle cx="640.9" cy="1298.4" r="7.2"/>
<circle cx="631.0" cy="1308.6" r="7.2"/>
<circle cx="536.5" cy="1258.1" r="7.2"/>
<circle cx="648.9" cy="1291.2" r="7.2"/>
<circle cx="738.4" cy="1322.8" r="7.2"/>
<circle cx="593.8" cy="1247.3" r="7.2"/>
<circle cx="593.0" cy="1314.4" r="7.2"/>
<circle cx="758.7" cy="1304.5" r="7.2"/>
<circle cx="717.7" cy="1313.6" r="7.2"/>
<circle cx="726.1" cy="1324.1" r="7.2"/>
<circle cx="648.2" cy="1303.4" r="7.2"/>
<circle cx="614.6" cy="1252.8" r="7.2"/>
<circle cx="533.7" cy="1276.5" r="7.2"/>
<circle cx="778.8" cy="1300.8" r="7.2"/>
<circle cx="532.1" cy="1303.5" r="7.2"/>
<circle cx="596.2" cy="1296.6" r="7.2"/>
<circle cx="580.6" cy="1306.0" r="7.2"/>
<circle cx="563.7" cy="1325.8" r="7.2"/>
<circle cx="688.3" cy="1273.1" r="7.2"/>
<circle cx="573.9" cy="1314.1" r="7.2"/>
<circle cx="757.3" cy="1302.6" r="7.2"/>
<circle cx="651.2" cy="1251.1" r="7.2"/>
<circle cx="556.7" cy="1319.9" r="7.2"/>
<circle cx="570.2" cy="1316.3" r="7.2"/>
<circle cx="763.8" cy="1303.3" r="7.2"/>
<circle cx="509.3" cy="1325.7" r="7.2"/>
<circle cx="612.0" cy="1248.6" r="7.2"/>
<circle cx="505.3" cy="1317.5" r="7.2"/>
<circle cx="539.1" cy="1320.1" r="7.2"/>
<circle cx="581.5" cy="1258.5" r="7.2"/>
<circle cx="689.0" cy="1306.9" r="7.2"/>
<circle cx="589.1" cy="1262.2" r="7.2"/>
<circle cx="658.5" cy="1315.7" r="7.2"/>
<circle cx="628.9" cy="1240.4" r="7.2"/>
<circle cx="633.2" cy="1270.2" r="7.2"/>
<circle cx="684.6" cy="1253.5" r="7.2"/>
<circle cx="704.8" cy="1294.4" r="7.2"/>
<circle cx="684.9" cy="1313.1" r="7.2"/>
<circle cx="549.3" cy="1322.0" r="7.2"/>
<circle cx="653.6" cy="1325.7" r="7.2"/>
<circle cx="581.4" cy="1266.1" r="7.2"/>
<circle cx="698.4" cy="1268.2" r="7.2"/>
<circle cx="776.7" cy="1309.5" r="7.2"/>
<circle cx="773.4" cy="1314.2" r="7.2"/>
<circle cx="692.4" cy="1324.0" r="7.2"/>
<circle cx="591.9" cy="1270.8" r="7.2"/>
<circle cx="703.1" cy="1271.5" r="7.2"/>
<circle cx="522.7" cy="1295.8" r="7.2"/>
<circle cx="777.2" cy="1304.6" r="7.2"/>
<circle cx="602.8" cy="1280.3" r="7.2"/>
<circle cx="682.8" cy="1253.4" r="7.2"/>
<circle cx="788.1" cy="1308.0" r="7.2"/>
<circle cx="624.3" cy="1259.1" r="7.2"/>
<circle cx="653.3" cy="1248.1" r="7.2"/>
<circle cx="744.4" cy="1279.8" r="7.2"/>
<circle cx="663.7" cy="1337.0" r="7.2"/>
<circle cx="739.1" cy="1304.8" r="7.2"/>
<circle cx="520.4" cy="1330.0" r="7.2"/>
<circle cx="724.6" cy="1332.7" r="7.2"/>
<circle cx="568.4" cy="1312.2" r="7.2"/>
<circle cx="533.4" cy="1273.4" r="7.2"/>
<circle cx="710.8" cy="1284.5" r="7.2"/>
<circle cx="510.7" cy="1313.4" r="7.2"/>
<circle cx="725.4" cy="1326.5" r="7.2"/>
<circle cx="616.1" cy="1261.2" r="7.2"/>
<circle cx="608.7" cy="1238.9" r="7.2"/>
<circle cx="785.8" cy="1311.9" r="7.2"/>
<circle cx="621.6" cy="1313.0" r="7.2"/>
<circle cx="514.2" cy="1260.1" r="7.2"/>
<circle cx="533.3" cy="1322.6" r="7.2"/>
<circle cx="666.0" cy="1251.8" r="7.2"/>
<circle cx="726.5" cy="1299.1" r="7.2"/>
<circle cx="706.8" cy="1305.3" r="7.2"/>
<circle cx="557.7" cy="1291.9" r="7.2"/>
<circle cx="516.6" cy="1247.9" r="7.2"/>
<circle cx="749.9" cy="1258.7" r="7.2"/>
<circle cx="682.1" cy="1299.8" r="7.2"/>
<circle cx="722.6" cy="1277.8" r="7.2"/>
<circle cx="638.6" cy="1277.8" r="7.2"/>
<circle cx="642.1" cy="1251.9" r="7.2"/>
<circle cx="596.8" cy="1318.0" r="7.2"/>
<circle cx="523.4" cy="1297.4" r="7.2"/>
<circle cx="543.8" cy="1242.8" r="7.2"/>
<circle cx="588.1" cy="1269.7" r="7.2"/>
<circle cx="668.6" cy="1296.9" r="7.2"/>
<circle cx="643.6" cy="1280.6" r="7.2"/>
<circle cx="766.4" cy="1327.9" r="7.2"/>
<circle cx="755.2" cy="1310.2" r="7.2"/>
<circle cx="650.3" cy="1307.9" r="7.2"/>
<circle cx="591.0" cy="1291.0" r="7.2"/>
<circle cx="561.1" cy="1268.8" r="7.2"/>
<circle cx="718.3" cy="1285.8" r="7.2"/>
<circle cx="783.2" cy="1279.3" r="7.2"/>
<circle cx="564.3" cy="1319.8" r="7.2"/>
<circle cx="583.3" cy="1307.4" r="7.2"/>
<circle cx="702.4" cy="1321.2" r="7.2"/>
<circle cx="527.3" cy="1306.5" r="7.2"/>
<circle cx="580.9" cy="1270.6" r="7.2"/>
<circle cx="517.2" cy="1251.7" r="7.2"/>
<circle cx="534.5" cy="1323.7" r="7.2"/>
<circle cx="685.6" cy="1291.4" r="7.2"/>
<circle cx="707.7" cy="1258.8" r="7.2"/>
<circle cx="714.5" cy="1260.4" r="7.2"/>
<circle cx="758.2" cy="1287.2" r="7.2"/>
<circle cx="508.6" cy="1285.6" r="7.2"/>
<circle cx="517.6" cy="1330.8" r="7.2"/>
<circle cx="596.1" cy="1281.8" r="7.2"/>
<circle cx="697.7" cy="1310.1" r="7.2"/>
<circle cx="702.9" cy="1259.9" r="7.2"/>
<circle cx="675.1" cy="1270.0" r="7.2"/>
<circle cx="719.2" cy="1295.3" r="7.2"/>
<circle cx="578.2" cy="1321.9" r="7.2"/>
<circle cx="554.5" cy="1253.0" r="7.2"/>
<circle cx="543.6" cy="1264.0" r="7.2"/>
<circle cx="574.7" cy="1278.5" r="7.2"/>
<circle cx="641.8" cy="1334.5" r="7.2"/>
<circle cx="522.5" cy="1258.8" r="7.2"/>
<circle cx="565.7" cy="1325.1" r="7.2"/>
<circle cx="701.2" cy="1303.3" r="7.2"/>
<circle cx="566.3" cy="1317.5" r="7.2"/>
<circle cx="521.8" cy="1333.0" r="7.2"/>
<circle cx="565.7" cy="1287.7" r="7.2"/>
<circle cx="761.7" cy="1323.3" r="7.2"/>
<circle cx="567.4" cy="1243.8" r="7.2"/>
<circle cx="598.8" cy="1312.3" r="7.2"/>
<circle cx="790.7" cy="1289.9" r="7.2"/>
<circle cx="740.3" cy="1277.5" r="7.2"/>
<circle cx="609.2" cy="1273.2" r="7.2"/>
<circle cx="594.6" cy="1274.4" r="7.2"/>
<circle cx="727.1" cy="1321.2" r="7.2"/>
<circle cx="510.3" cy="1320.2" r="7.2"/>
<circle cx="769.2" cy="1282.3" r="7.2"/>
<circle cx="558.9" cy="1255.2" r="7.2"/>
<circle cx="556.8" cy="1272.5" r="7.2"/>
<circle cx="642.9" cy="1291.3" r="7.2"/>
<circle cx="562.5" cy="1293.4" r="7.2"/>
<circle cx="560.9" cy="1310.7" r="7.2"/>
<circle cx="641.9" cy="1277.9" r="7.2"/>
<circle cx="505.6" cy="1274.7" r="7.2"/>
<circle cx="583.5" cy="1283.9" r="7.2"/>
<circle cx="623.5" cy="1291.8" r="7.2"/>
<circle cx="591.3" cy="1266.2" r="7.2"/>
<circle cx="507.0" cy="1272.6" r="7.2"/>
<circle cx="509.6" cy="1332.7" r="7.2"/>
<circle cx="503.0" cy="1292.5" r="7.2"/>
<circle cx="682.6" cy="1254.6" r="7.2"/>
<circle cx="586.4" cy="1282.5" r="7.2"/>
<circle cx="554.9" cy="1255.0" r="7.2"/>
<circle cx="727.8" cy="1319.9" r="7.2"/>
<circle cx="682.9" cy="1321.4" r="7.2"/>
<circle cx="664.9" cy="1331.5" r="7.2"/>
<circle cx="696.9" cy="1336.7" r="7.2"/>
<circle cx="727.6" cy="1308.9" r="7.2"/>
<circle cx="556.9" cy="1291.2" r="7.2"/>
<circle cx="549.3" cy="1284.9" r="7.2"/>
<circle cx="741.1" cy="1284.2" r="7.2"/>
<circle cx="658.7" cy="1296.9" r="7.2"/>
<circle cx="548.0" cy="1305.7" r="7.2"/>
<circle cx="674.4" cy="1252.8" r="7.2"/>
<circle cx="747.2" cy="1272.4" r="7.2"/>
<circle cx="647.3" cy="1321.5" r="7.2"/>
<circle cx="612.2" cy="1334.0" r="7.2"/>
<circle cx="515.3" cy="1262.5" r="7.2"/>
<circle cx="719.6" cy="1320.5" r="7.2"/>
<circle cx="523.8" cy="1281.7" r="7.2"/>
<circle cx="581.6" cy="1247.7" r="7.2"/>
<circle cx="549.3" cy="1276.7" r="7.2"/>
<circle cx="746.1" cy="1314.3" r="7.2"/>
<circle cx="660.1" cy="1306.6" r="7.2"/>
<circle cx="505.0" cy="1262.4" r="7.2"/>
<circle cx="628.1" cy="1332.6" r="7.2"/>
<circle cx="794.8" cy="1292.8" r="7.2"/>
<circle cx="775.1" cy="1279.7" r="7.2"/>
<circle cx="578.9" cy="1246.3" r="7.2"/>
<circle cx="563.7" cy="1299.9" r="7.2"/>
<circle cx="503.1" cy="1261.7" r="7.2"/>
<circle cx="558.3" cy="1283.0" r="7.2"/>
<circle cx="586.6" cy="1289.3" r="7.2"/>
<circle cx="656.3" cy="1309.8" r="7.2"/>
<circle cx="647.1" cy="1315.1" r="7.2"/>
<circle cx="785.3" cy="1268.9" r="7.2"/>
<circle cx="785.1" cy="1271.5" r="7.2"/>
<circle cx="503.2" cy="1288.0" r="7.2"/>
<circle cx="587.3" cy="1308.4" r="7.2"/>
<circle cx="547.5" cy="1330.2" r="7.2"/>
<circle cx="548.1" cy="1264.9" r="7.2"/>
<circle cx="538.8" cy="1293.6" r="7.2"/>
<circle cx="604.6" cy="1283.6" r="7.2"/>
<circle cx="691.3" cy="1326.9" r="7.2"/>
<circle cx="759.2" cy="1288.8" r="7.2"/>
<circle cx="689.6" cy="1308.5" r="7.2"/>
<circle cx="755.6" cy="1322.6" r="7.2"/>
<circle cx="638.8" cy="1312.9" r="7.2"/>
<circle cx="539.2" cy="1319.6" r="7.2"/>
<circle cx="568.4" cy="1237.2" r="7.2"/>
<circle cx="522.6" cy="1333.7" r="7.2"/>
<circle cx="669.3" cy="1284.2" r="7.2"/>
<circle cx="575.1" cy="1253.0" r="7.2"/>
<circle cx="506.2" cy="1253.7" r="7.2"/>
<circle cx="665.6" cy="1271.9" r="7.2"/>
<circle cx="626.3" cy="1268.2" r="7.2"/>
<circle cx="549.8" cy="1320.8" r="7.2"/>
<circle cx="591.2" cy="1274.4" r="7.2"/>
<circle cx="659.0" cy="1294.6" r="7.2"/>
<circle cx="558.2" cy="1258.2" r="7.2"/>
<circle cx="696.1" cy="1304.1" r="7.2"/>
<circle cx="656.5" cy="1302.2" r="7.2"/>
<circle cx="724.7" cy="1315.0" r="7.2"/>
<circle cx="704.9" cy="1336.4" r="7.2"/>
<circle cx="525.1" cy="1276.1" r="7.2"/>
<circle cx="693.3" cy="1337.2" r="7.2"/>
<circle cx="586.1" cy="1241.1" r="7.2"/>
<circle cx="583.1" cy="1278.0" r="7.2"/>
<circle cx="571.4" cy="1307.5" r="7.2"/>
<circle cx="570.2" cy="1243.7" r="7.2"/>
<circle cx="740.3" cy="1258.6" r="7.2"/>
<circle cx="576.0" cy="1300.0" r="7.2"/>
<circle cx="689.6" cy="1277.1" r="7.2"/>
<circle cx="503.9" cy="1279.6" r="7.2"/>
<circle cx="612.7" cy="1306.8" r="7.2"/>
<circle cx="610.9" cy="1256.5" r="7.2"/>
<circle cx="644.2" cy="1335.0" r="7.2"/>
<circle cx="675.5" cy="1274.7" r="7.2"/>
<circle cx="521.2" cy="1316.1" r="7.2"/>
<circle cx="697.6" cy="1335.7" r="7.2"/>
<circle cx="736.6" cy="1318.5" r="7.2"/>
<circle cx="605.9" cy="1270.8" r="7.2"/>
<circle cx="537.6" cy="1277.1" r="7.2"/>
<circle cx="681.6" cy="1326.3" r="7.2"/>
<circle cx="634.5" cy="1318.7" r="7.2"/>
<circle cx="569.4" cy="1251.3" r="7.2"/>
<circle cx="722.2" cy="1289.2" r="7.2"/>
<circle cx="638.3" cy="1295.4" r="7.2"/>
<circle cx="588.1" cy="1281.1" r="7.2"/>
<circle cx="550.1" cy="1264.1" r="7.2"/>
<circle cx="658.3" cy="1253.1" r="7.2"/>
<circle cx="640.1" cy="1321.9" r="7.2"/>
<circle cx="638.8" cy="1311.2" r="7.2"/>
<circle cx="608.5" cy="1319.4" r="7.2"/>
<circle cx="670.1" cy="1332.6" r="7.2"/>
<circle cx="563.3" cy="1302.9" r="7.2"/>
<circle cx="550.5" cy="1292.1" r="7.2"/>
<circle cx="597.3" cy="1320.9" r="7.2"/>
<circle cx="576.1" cy="1323.5" r="7.2"/>
<circle cx="537.8" cy="1319.8" r="7.2"/>
<circle cx="536.0" cy="1245.3" r="7.2"/>
<circle cx="630.4" cy="1316.8" r="7.2"/>
<circle cx="577.8" cy="1317.8" r="7.2"/>
<circle cx="552.9" cy="1291.5" r="7.2"/>
<circle cx="749.7" cy="1327.5" r="7.2"/>
<circle cx="516.5" cy="1291.8" r="7.2"/>
<circle cx="642.3" cy="1328.9" r="7.2"/>
<circle cx="763.9" cy="1331.8" r="7.2"/>
<circle cx="687.0" cy="1267.6" r="7.2"/>
<circle cx="737.2" cy="1317.5" r="7.2"/>
<circle cx="570.2" cy="1334.7" r="7.2"/>
<circle cx="597.6" cy="1283.9" r="7.2"/>
<circle cx="608.4" cy="1241.9" r="7.2"/>
<circle cx="618.0" cy="1324.2" r="7.2"/>
<circle cx="780.6" cy="1293.5" r="7.2"/>
<circle cx="699.0" cy="1301.3" r="7.2"/>
<circle cx="733.3" cy="1282.5" r="7.2"/>
<circle cx="506.0" cy="1262.5" r="7.2"/>
<circle cx="679.7" cy="1312.0" r="7.2"/>
<circle cx="616.4" cy="1276.8" r="7.2"/>
<circle cx="614.2" cy="1252.2" r="7.2"/>
<circle cx="582.3" cy="1308.3" r="7.2"/>
<circle cx="535.2" cy="1253.1" r="7.2"/>
<circle cx="645.5" cy="1251.8" r="7.2"/>
<circle cx="678.6" cy="1327.1" r="7.2"/>
<circle cx="788.3" cy="1317.6" r="7.2"/>
<circle cx="532.0" cy="1245.9" r="7.2"/>
<circle cx="562.4" cy="1330.7" r="7.2"/>
<circle cx="548.5" cy="1236.5" r="7.2"/>
<circle cx="660.7" cy="1329.1" r="7.2"/>
<circle cx="780.2" cy="1286.0" r="7.2"/>
<circle cx="651.9" cy="1254.5" r="7.2"/>
<circle cx="600.0" cy="1304.7" r="7.2"/>
<circle cx="579.6" cy="1310.0" r="7.2"/>
<circle cx="756.7" cy="1303.1" r="7.2"/>
<circle cx="697.0" cy="1269.0" r="7.2"/>
<circle cx="649.5" cy="1302.5" r="7.2"/>
<circle cx="764.6" cy="1320.0" r="7.2"/>
<circle cx="703.2" cy="1314.9" r="7.2"/>
<circle cx="656.5" cy="1261.4" r="7.2"/>
<circle cx="694.6" cy="1294.4" r="7.2"/>
<circle cx="779.6" cy="1274.7" r="7.2"/>
<circle cx="759.7" cy="1260.4" r="7.2"/>
<circle cx="709.6" cy="1326.9" r="7.2"/>
<circle cx="617.5" cy="1302.4" r="7.2"/>
<circle cx="544.5" cy="1327.3" r="7.2"/>
<circle cx="512.7" cy="1279.2" r="7.2"/>
<circle cx="688.6" cy="1325.6" r="7.2"/>
<circle cx="662.2" cy="1263.6" r="7.2"/>
<circle cx="755.7" cy="1328.6" r="7.2"/>
<circle cx="582.2" cy="1251.5" r="7.2"/>
<circle cx="634.8" cy="1260.3" r="7.2"/>
<circle cx="604.8" cy="1263.7" r="7.2"/>
<circle cx="558.8" cy="1308.2" r="7.2"/>
<circle cx="718.5" cy="1284.5" r="7.2"/>
<circle cx="698.5" cy="1290.2" r="7.2"/>
<circle cx="776.4" cy="1266.3" r="7.2"/>
<circle cx="495.8" cy="1289.5" r="7.2"/>
<circle cx="741.8" cy="1329.3" r="7.2"/>
<circle cx="638.4" cy="1263.8" r="7.2"/>
<circle cx="715.5" cy="1287.6" r="7.2"/>
<circle cx="731.0" cy="1283.0" r="7.2"/>
<circle cx="736.2" cy="1290.7" r="7.2"/>
<circle cx="586.6" cy="1302.6" r="7.2"/>
<circle cx="607.0" cy="1322.4" r="7.2"/>
<circle cx="623.8" cy="1294.8" r="7.2"/>
<circle cx="575.6" cy="1251.3" r="7.2"/>
<circle cx="528.6" cy="1328.2" r="7.2"/>
<circle cx="650.9" cy="1311.3" r="7.2"/>
<circle cx="593.5" cy="1327.2" r="7.2"/>
<circle cx="518.9" cy="1320.0" r="7.2"/>
<circle cx="494.6" cy="1286.0" r="7.2"/>
<circle cx="744.4" cy="1315.7" r="7.2"/>
<circle cx="714.5" cy="1289.8" r="7.2"/>
<circle cx="657.4" cy="1285.4" r="7.2"/>
<circle cx="539.1" cy="1312.6" r="7.2"/>
<circle cx="720.9" cy="1299.8" r="7.2"/>
<circle cx="764.5" cy="1293.1" r="7.2"/>
<circle cx="551.3" cy="1335.5" r="7.2"/>
<circle cx="502.7" cy="1277.5" r="7.2"/>
<circle cx="687.8" cy="1301.9" r="7.2"/>
<circle cx="616.0" cy="1252.7" r="7.2"/>
<circle cx="610.5" cy="1243.1" r="7.2"/>
<circle cx="530.8" cy="1239.1" r="7.2"/>
<circle cx="750.0" cy="1274.5" r="7.2"/>
<circle cx="563.3" cy="1303.5" r="7.2"/>
<circle cx="533.0" cy="1312.9" r="7.2"/>
<circle cx="613.2" cy="1286.7" r="7.2"/>
<circle cx="652.7" cy="1314.4" r="7.2"/>
<circle cx="636.3" cy="1265.5" r="7.2"/>
<circle cx="603.8" cy="1324.9" r="7.2"/>
<circle cx="721.6" cy="1327.9" r="7.2"/>
<circle cx="543.0" cy="1242.1" r="7.2"/>
<circle cx="736.5" cy="1295.8" r="7.2"/>
<circle cx="598.8" cy="1294.4" r="7.2"/>
<circle cx="733.5" cy="1317.3" r="7.2"/>
<circle cx="747.5" cy="1314.4" r="7.2"/>
<circle cx="717.2" cy="1285.6" r="7.2"/>
<circle cx="545.4" cy="1239.0" r="7.2"/>
<circle cx="645.2" cy="1276.8" r="7.2"/>
<circle cx="713.6" cy="1276.1" r="7.2"/>
<circle cx="784.9" cy="1320.1" r="7.2"/>
<circle cx="647.7" cy="1326.9" r="7.2"/>
<circle cx="699.0" cy="1285.6" r="7.2"/>
<circle cx="678.5" cy="1263.5" r="7.2"/>
<circle cx="665.3" cy="1311.1" r="7.2"/>
<circle cx="587.0" cy="1237.8" r="7.2"/>
</g>
<circle cx="550" cy="1080.2" r="7.2" fill="#bfbfbf"/>
<circle cx="561.5" cy="1118.5" r="7.2" fill="#bfbfbf"/>
<circle cx="560.5" cy="1129.5" r="7.2" fill="#bfbfbf"/>
<circle cx="473.8" cy="1184" r="7.2" fill="#bfbfbf"/>
<circle cx="584" cy="1182.6" r="7.2" fill="#bfbfbf"/>
<circle cx="610.3" cy="1171.2" r="7.2" fill="#bfbfbf"/>
<circle cx="544.9" cy="1190.8" r="7.2" fill="#bfbfbf"/>
<circle cx="719.2" cy="1110.4" r="7.2" fill="#bfbfbf"/>
<circle cx="633" cy="1147.5" r="7.2" fill="#bfbfbf"/>
<circle cx="759.1" cy="1142" r="7.2" fill="#bfbfbf"/>
<circle cx="758" cy="1163" r="7.2" fill="#bfbfbf"/>
<circle cx="734.4" cy="1172.2" r="7.2" fill="#bfbfbf"/>
<circle cx="919" cy="1122.7" r="7.2" fill="#bfbfbf"/>
<circle cx="906.1" cy="1143.8" r="7.2" fill="#bfbfbf"/>
<circle cx="809.9" cy="1184.1" r="7.2" fill="#bfbfbf"/>
<circle cx="897" cy="1193.3" r="7.2" fill="#bfbfbf"/>
<circle cx="648.6" cy="1196" r="7.2" fill="#bfbfbf"/>
<circle cx="693.1" cy="1192.4" r="7.2" fill="#bfbfbf"/>
<circle cx="750.3" cy="1198.8" r="7.2" fill="#bfbfbf"/>
<circle cx="808" cy="1198.8" r="7.2" fill="#bfbfbf"/>
<circle cx="408" cy="1204" r="7.2" fill="#bfbfbf"/>
<circle cx="419" cy="1213.4" r="7.2" fill="#bfbfbf"/>
<circle cx="468" cy="1208.3" r="7.2" fill="#bfbfbf"/>
<circle cx="488.7" cy="1204.9" r="7.2" fill="#bfbfbf"/>
<circle cx="400" cy="1224.4" r="7.2" fill="#bfbfbf"/>
<circle cx="442" cy="1223.6" r="7.2" fill="#bfbfbf"/>
<circle cx="330.6" cy="1244" r="7.2" fill="#bfbfbf"/>
<circle cx="389.3" cy="1257.6" r="7.2" fill="#bfbfbf"/>
<circle cx="551.7" cy="1204" r="7.2" fill="#bfbfbf"/>
<circle cx="512.5" cy="1210.8" r="7.2" fill="#bfbfbf"/>
<circle cx="597.6" cy="1216" r="7.2" fill="#bfbfbf"/>
<circle cx="601.8" cy="1227.8" r="7.2" fill="#bfbfbf"/>
<circle cx="561.9" cy="1221" r="7.2" fill="#bfbfbf"/>
<circle cx="533" cy="1229.5" r="7.2" fill="#bfbfbf"/>
<circle cx="545.7" cy="1238" r="7.2" fill="#bfbfbf"/>
<circle cx="575.5" cy="1231.2" r="7.2" fill="#bfbfbf"/>
<circle cx="377.4" cy="1278.8" r="7.2" fill="#bfbfbf"/>
<circle cx="385" cy="1291.6" r="7.2" fill="#bfbfbf"/>
<circle cx="402.9" cy="1296.7" r="7.2" fill="#bfbfbf"/>
<circle cx="420.7" cy="1299.2" r="7.2" fill="#bfbfbf"/>
<circle cx="330.6" cy="1314.5" r="7.2" fill="#bfbfbf"/>
<circle cx="325.5" cy="1318.8" r="7.2" fill="#bfbfbf"/>
<circle cx="367.2" cy="1315.4" r="7.2" fill="#bfbfbf"/>
<circle cx="400.3" cy="1329.8" r="7.2" fill="#bfbfbf"/>
<circle cx="381.6" cy="1336.6" r="7.2" fill="#bfbfbf"/>
<circle cx="413.9" cy="1340" r="7.2" fill="#bfbfbf"/>
<circle cx="400.3" cy="1348.5" r="7.2" fill="#bfbfbf"/>
<circle cx="384.2" cy="1365.5" r="7.2" fill="#bfbfbf"/>
<circle cx="357.8" cy="1383.4" r="7.2" fill="#bfbfbf"/>
<circle cx="431.8" cy="1353.6" r="7.2" fill="#bfbfbf"/>
<circle cx="426.7" cy="1380" r="7.2" fill="#bfbfbf"/>
<circle cx="447.9" cy="1382.6" r="7.2" fill="#bfbfbf"/>
<circle cx="452.2" cy="1371.5" r="7.2" fill="#bfbfbf"/>
<circle cx="411.4" cy="1406.4" r="7.2" fill="#bfbfbf"/>
<circle cx="461.5" cy="1398.7" r="7.2" fill="#bfbfbf"/>
<circle cx="485.3" cy="1408.9" r="7.2" fill="#bfbfbf"/>
<circle cx="500.6" cy="1397.9" r="7.2" fill="#bfbfbf"/>
<circle cx="503.2" cy="1379.2" r="7.2" fill="#bfbfbf"/>
<circle cx="479.4" cy="1368.1" r="7.2" fill="#bfbfbf"/>
<circle cx="483.6" cy="1352" r="7.2" fill="#bfbfbf"/>
<circle cx="521" cy="1358.7" r="7.2" fill="#bfbfbf"/>
<circle cx="530.4" cy="1395.3" r="7.2" fill="#bfbfbf"/>
<circle cx="541.5" cy="1413.2" r="7.2" fill="#bfbfbf"/>
<circle cx="543.2" cy="1355.3" r="7.2" fill="#bfbfbf"/>
<circle cx="548.3" cy="1341.7" r="7.2" fill="#bfbfbf"/>
<circle cx="521" cy="1340.9" r="7.2" fill="#bfbfbf"/>
<circle cx="592.5" cy="1370.6" r="7.2" fill="#bfbfbf"/>
<circle cx="591.6" cy="1386" r="7.2" fill="#bfbfbf"/>
<circle cx="579.7" cy="1346.8" r="7.2" fill="#bfbfbf"/>
<circle cx="603" cy="1347" r="7.2" fill="#bfbfbf"/>
<circle cx="608.6" cy="1357" r="7.2" fill="#bfbfbf"/>
<circle cx="612.9" cy="1423.4" r="7.2" fill="#bfbfbf"/>
<circle cx="430.1" cy="1440.4" r="7.2" fill="#bfbfbf"/>
<circle cx="557.6" cy="1458.2" r="7.2" fill="#bfbfbf"/>
<circle cx="563.6" cy="1469" r="7.2" fill="#bfbfbf"/>
<circle cx="693.2" cy="1193" r="7.2" fill="#bfbfbf"/>
<circle cx="750.5" cy="1201" r="7.2" fill="#bfbfbf"/>
<circle cx="810" cy="1184.5" r="7.2" fill="#bfbfbf"/>
<circle cx="808.8" cy="1201.5" r="7.2" fill="#bfbfbf"/>
<circle cx="896.7" cy="1193.8" r="7.2" fill="#bfbfbf"/>
<circle cx="642.5" cy="1213.4" r="7.2" fill="#bfbfbf"/>
<circle cx="677.4" cy="1219" r="7.2" fill="#bfbfbf"/>
<circle cx="897.9" cy="1221.4" r="7.2" fill="#bfbfbf"/>
<circle cx="881.4" cy="1235" r="7.2" fill="#bfbfbf"/>
<circle cx="826.2" cy="1233.8" r="7.2" fill="#bfbfbf"/>
<circle cx="822.7" cy="1242.3" r="7.2" fill="#bfbfbf"/>
<circle cx="845.7" cy="1242.3" r="7.2" fill="#bfbfbf"/>
<circle cx="865.3" cy="1248.2" r="7.2" fill="#bfbfbf"/>
<circle cx="862.7" cy="1256.7" r="7.2" fill="#bfbfbf"/>
<circle cx="893.3" cy="1262.7" r="7.2" fill="#bfbfbf"/>
<circle cx="904.4" cy="1267" r="7.2" fill="#bfbfbf"/>
<circle cx="844.9" cy="1266" r="7.2" fill="#bfbfbf"/>
<circle cx="912" cy="1287.3" r="7.2" fill="#bfbfbf"/>
<circle cx="880.6" cy="1287.3" r="7.2" fill="#bfbfbf"/>
<circle cx="870" cy="1289" r="7.2" fill="#bfbfbf"/>
<circle cx="851.7" cy="1294.1" r="7.2" fill="#bfbfbf"/>
<circle cx="836.3" cy="1307.7" r="7.2" fill="#bfbfbf"/>
<circle cx="812.5" cy="1316.2" r="7.2" fill="#bfbfbf"/>
<circle cx="827.8" cy="1322.2" r="7.2" fill="#bfbfbf"/>
<circle cx="872.9" cy="1319.6" r="7.2" fill="#bfbfbf"/>
<circle cx="847.4" cy="1337.5" r="7.2" fill="#bfbfbf"/>
<circle cx="806.6" cy="1330" r="7.2" fill="#bfbfbf"/>
<circle cx="806.6" cy="1343.4" r="7.2" fill="#bfbfbf"/>
<circle cx="823.6" cy="1343.4" r="7.2" fill="#bfbfbf"/>
<circle cx="872.1" cy="1352" r="7.2" fill="#bfbfbf"/>
<circle cx="743.7" cy="1353.6" r="7.2" fill="#bfbfbf"/>
<circle cx="750.5" cy="1367.2" r="7.2" fill="#bfbfbf"/>
<circle cx="631.5" cy="1383.4" r="7.2" fill="#bfbfbf"/>
<circle cx="661.2" cy="1391" r="7.2" fill="#bfbfbf"/>
<circle cx="612.8" cy="1423.4" r="7.2" fill="#bfbfbf"/>
<circle cx="798.1" cy="1301.8" r="7.2" fill="#bfbfbf"/>
<circle cx="780.2" cy="1329.8" r="7.2" fill="#bfbfbf"/>
<circle cx="669.7" cy="1345.1" r="7.2" fill="#bfbfbf"/>
<circle cx="681.6" cy="1340" r="7.2" fill="#bfbfbf"/>
<circle cx="698.6" cy="1336.6" r="7.2" fill="#bfbfbf"/>
<circle cx="609.4" cy="1357" r="7.2" fill="#bfbfbf"/>
<circle cx="627.2" cy="1367.2" r="7.2" fill="#bfbfbf"/>
<circle cx="639.1" cy="1352" r="7.2" fill="#bfbfbf"/>
<circle cx="954" cy="1207.9" r="7.2" fill="#bfbfbf"/>
<circle cx="897.8" cy="1221.5" r="7.2" fill="#bfbfbf"/>
<circle cx="882.7" cy="1235.1" r="7.2" fill="#bfbfbf"/>
<circle cx="948" cy="1257.8" r="7.2" fill="#bfbfbf"/>
<circle cx="955.8" cy="1268.3" r="7.2" fill="#bfbfbf"/>
<circle cx="892.7" cy="1262.3" r="7.2" fill="#bfbfbf"/>
<circle cx="904.5" cy="1266.5" r="7.2" fill="#bfbfbf"/>
<circle cx="946.8" cy="1283.2" r="7.2" fill="#bfbfbf"/>
<circle cx="912.7" cy="1287.7" r="7.2" fill="#bfbfbf"/>
<circle cx="881.8" cy="1287.7" r="7.2" fill="#bfbfbf"/>
<circle cx="981.6" cy="1281" r="7.2" fill="#bfbfbf"/>
<circle cx="988.8" cy="1290" r="7.2" fill="#bfbfbf"/>
<circle cx="970.7" cy="1297.7" r="7.2" fill="#bfbfbf"/>
<circle cx="1064.1" cy="1277.4" r="7.2" fill="#bfbfbf"/>
<circle cx="1021.5" cy="1298.6" r="7.2" fill="#bfbfbf"/>
<circle cx="1029.7" cy="1298.6" r="7.2" fill="#bfbfbf"/>
<circle cx="949.8" cy="1315.8" r="7.2" fill="#bfbfbf"/>
<circle cx="991" cy="1323" r="7.2" fill="#bfbfbf"/>
<circle cx="1041.1" cy="1331.3" r="7.2" fill="#bfbfbf"/>
<circle cx="498.7" cy="1396.4" r="7.2" fill="#bfbfbf"/>
<circle cx="503.6" cy="1402.2" r="7.2" fill="#bfbfbf"/>
<circle cx="531" cy="1395.4" r="7.2" fill="#bfbfbf"/>
<circle cx="541.8" cy="1413.8" r="7.2" fill="#bfbfbf"/>
<circle cx="591.7" cy="1386.8" r="7.2" fill="#bfbfbf"/>
<circle cx="660.8" cy="1390.6" r="7.2" fill="#bfbfbf"/>
<circle cx="613.2" cy="1423.4" r="7.2" fill="#bfbfbf"/>
<circle cx="557.6" cy="1458.1" r="7.2" fill="#bfbfbf"/>
<circle cx="563.4" cy="1474.2" r="7.2" fill="#bfbfbf"/>
<circle cx="436.2" cy="1511.8" r="7.2" fill="#bfbfbf"/>
<circle cx="485.6" cy="1409.3" r="7.2" fill="#bfbfbf"/>
<circle cx="595" cy="935.7" r="6.4" fill="#e31b23" stroke="#c8141d" stroke-width="1.3"/>
<circle cx="467" cy="1044.9" r="6.4" fill="#e31b23" stroke="#c8141d" stroke-width="1.3"/>
<circle cx="419.9" cy="1109.5" r="6.4" fill="#e31b23" stroke="#c8141d" stroke-width="1.3"/>
<circle cx="480.7" cy="1102.7" r="6.4" fill="#e31b23" stroke="#c8141d" stroke-width="1.3"/>
<circle cx="519.7" cy="1119.3" r="6.4" fill="#e31b23" stroke="#c8141d" stroke-width="1.3"/>
<circle cx="527.5" cy="1143.5" r="6.4" fill="#e31b23" stroke="#c8141d" stroke-width="1.3"/>
<circle cx="600" cy="1147.5" r="6.4" fill="#e31b23" stroke="#c8141d" stroke-width="1.3"/>
<circle cx="430.1" cy="1180.2" r="6.4" fill="#e31b23" stroke="#c8141d" stroke-width="1.3"/>
<circle cx="548.6" cy="1184.8" r="6.4" fill="#e31b23" stroke="#c8141d" stroke-width="1.3"/>
<circle cx="732.4" cy="988.4" r="6.4" fill="#e31b23" stroke="#c8141d" stroke-width="1.3"/>
<circle cx="679.2" cy="1041.5" r="6.4" fill="#e31b23" stroke="#c8141d" stroke-width="1.3"/>
<circle cx="756.4" cy="1044.3" r="6.4" fill="#e31b23" stroke="#c8141d" stroke-width="1.3"/>
<circle cx="832.5" cy="1058.8" r="6.4" fill="#e31b23" stroke="#c8141d" stroke-width="1.3"/>
<circle cx="854.8" cy="1084.2" r="6.4" fill="#e31b23" stroke="#c8141d" stroke-width="1.3"/>
<circle cx="698.4" cy="1114.5" r="6.4" fill="#e31b23" stroke="#c8141d" stroke-width="1.3"/>
<circle cx="624.2" cy="1141.6" r="6.4" fill="#e31b23" stroke="#c8141d" stroke-width="1.3"/>
<circle cx="634.5" cy="1170.4" r="6.4" fill="#e31b23" stroke="#c8141d" stroke-width="1.3"/>
<circle cx="825.1" cy="1143.8" r="6.4" fill="#e31b23" stroke="#c8141d" stroke-width="1.3"/>
<circle cx="849.9" cy="1142.3" r="6.4" fill="#e31b23" stroke="#c8141d" stroke-width="1.3"/>
<circle cx="815.6" cy="1162.1" r="6.4" fill="#e31b23" stroke="#c8141d" stroke-width="1.3"/>
<circle cx="962" cy="1140.5" r="6.4" fill="#e31b23" stroke="#c8141d" stroke-width="1.3"/>
<circle cx="435.2" cy="1211.7" r="6.4" fill="#e31b23" stroke="#c8141d" stroke-width="1.3"/>
<circle cx="455.6" cy="1222.4" r="6.4" fill="#e31b23" stroke="#c8141d" stroke-width="1.3"/>
<circle cx="519.7" cy="1218" r="6.4" fill="#e31b23" stroke="#c8141d" stroke-width="1.3"/>
<circle cx="533.3" cy="1210" r="6.4" fill="#e31b23" stroke="#c8141d" stroke-width="1.3"/>
<circle cx="614.9" cy="1208.8" r="6.4" fill="#e31b23" stroke="#c8141d" stroke-width="1.3"/>
<circle cx="713.6" cy="1213.9" r="6.4" fill="#e31b23" stroke="#c8141d" stroke-width="1.3"/>
<circle cx="762.4" cy="1324.7" r="6.4" fill="#e31b23" stroke="#c8141d" stroke-width="1.3"/>
<line x1="177.2" y1="865" x2="177.2" y2="1685.7" stroke="#000" stroke-width="2.1"/>
<line x1="177.2" y1="1286.7" x2="1220.4" y2="1286.7" stroke="#000" stroke-width="2.1"/>
<g font-family="'Liberation Sans', Arial, sans-serif" font-size="32.4" fill="#000">
<text x="161.8" y="907.5" text-anchor="end">1.2</text>
<text x="161.8" y="971.9" text-anchor="end">1</text>
<text x="161.8" y="1036.3" text-anchor="end">0.8</text>
<text x="161.8" y="1100.7" text-anchor="end">0.6</text>
<text x="161.8" y="1165.1" text-anchor="end">0.4</text>
<text x="161.8" y="1229.5" text-anchor="end">0.2</text>
<text x="161.8" y="1293.9" text-anchor="end">0</text>
<text x="161.8" y="1358.3" text-anchor="end">-0.2</text>
<text x="161.8" y="1422.7" text-anchor="end">-0.4</text>
<text x="161.8" y="1487.1" text-anchor="end">-0.6</text>
<text x="161.8" y="1551.5" text-anchor="end">-0.8</text>
<text x="161.8" y="1615.9" text-anchor="end">-1</text>
<text x="161.8" y="1680.3" text-anchor="end">-1.2</text>
<text x="284.3" y="1324.5" text-anchor="middle">6.5</text>
<text x="381.3" y="1324.5" text-anchor="middle">7</text>
<text x="485.9" y="1324.5" text-anchor="middle">7.5</text>
<text x="580.4" y="1324.5" text-anchor="middle">8</text>
<text x="685.7" y="1324.5" text-anchor="middle">8.5</text>
<text x="780.9" y="1324.5" text-anchor="middle">9</text>
<text x="885.4" y="1324.5" text-anchor="middle">9.5</text>
<text x="984.3" y="1324.5" text-anchor="middle">10</text>
<text x="1090.2" y="1324.5" text-anchor="middle">10.5</text>
<text x="1184" y="1324.5" text-anchor="middle">11</text>
<text x="467" y="903.5">FIKK4.1 DMSO - FIKK12 DMSO</text>
<text x="1091.5" y="1275.7">Intensity</text>
<text transform="translate(74,1282.4) rotate(-90)" text-anchor="middle">Log2FC</text>
</g>
<g font-family="'Liberation Sans', Arial, sans-serif" font-weight="bold" font-size="48" fill="#000">
<text x="-1.5" y="42.5">a</text>
<text x="1284.5" y="42.5">b</text>
<text x="1761" y="41.5">c</text>
</g>
<circle cx="54.5" cy="1737.4" r="15.6" fill="#e31b23"/>
<circle cx="55.5" cy="1787.6" r="15.6" fill="#bfbfbf"/>
<g font-family="'Liberation Sans', Arial, sans-serif" font-size="32.4" fill="#000">
<text x="86.6" y="1750.2">Proteins transcribed over 3 x more at 40hpi than 35hpi (Toenhake et al)</text>
<text x="92.3" y="1795.9">All other proteins</text>
</g>
<rect x="1538" y="188.5" width="183.7" height="37.38" fill="#fad3d7"/>
<rect x="1538" y="225.88" width="183.7" height="37.38" fill="#f9bfc4"/>
<rect x="1538" y="263.26" width="183.7" height="37.38" fill="#fcfcff"/>
<rect x="1538" y="300.64" width="183.7" height="37.38" fill="#fcfafe"/>
<rect x="1538" y="338.02" width="183.7" height="37.38" fill="#f4f7fc"/>
<rect x="1538" y="375.4" width="183.7" height="37.38" fill="#f4f7fc"/>
<rect x="1538" y="412.78" width="183.7" height="37.38" fill="#dae4f3"/>
<rect x="1538" y="450.16" width="183.7" height="37.38" fill="#e9eff8"/>
<rect x="1538" y="487.54" width="183.7" height="37.38" fill="#e5ecf7"/>
<rect x="1538" y="524.92" width="183.7" height="37.38" fill="#e8eef8"/>
<rect x="1538" y="562.3" width="183.7" height="37.55" fill="#fad1d5"/>
<rect x="1538" y="599.85" width="183.7" height="37.55" fill="#fad2d6"/>
<rect x="1538" y="637.4" width="183.7" height="37.55" fill="#fbe8ec"/>
<rect x="1538" y="674.95" width="183.7" height="37.55" fill="#dce5f4"/>
<rect x="1538" y="712.5" width="183.7" height="37.55" fill="#edf1fa"/>
<rect x="1538" y="750.05" width="183.7" height="37.55" fill="#cbdaee"/>
<rect x="1538" y="787.6" width="183.7" height="37.55" fill="#dce6f4"/>
<rect x="1538" y="825.15" width="183.7" height="37.55" fill="#fadcdf"/>
<rect x="1538" y="862.7" width="183.7" height="37.55" fill="#e8eef8"/>
<rect x="1538" y="900.25" width="183.7" height="37.55" fill="#618fc8"/>
<rect x="1538" y="937.8" width="183.7" height="37.35" fill="#fbf0f3"/>
<rect x="1538" y="975.15" width="183.7" height="37.35" fill="#fad0d4"/>
<rect x="1538" y="1012.5" width="183.7" height="37.35" fill="#f9ccd0"/>
<rect x="1538" y="1049.85" width="183.7" height="37.35" fill="#fbe6ea"/>
<rect x="1538" y="1087.2" width="183.7" height="37.35" fill="#dbe5f4"/>
<rect x="1538" y="1124.55" width="183.7" height="37.35" fill="#cbd9ee"/>
<rect x="1538" y="1161.9" width="183.7" height="37.35" fill="#eff3fa"/>
<rect x="1538" y="1199.25" width="183.7" height="37.35" fill="#b7cce7"/>
<rect x="1538" y="1236.6" width="183.7" height="37.35" fill="#fbe3e7"/>
<rect x="1538" y="1273.95" width="183.7" height="37.35" fill="#719ace"/>
<rect x="1538" y="1311.3" width="183.7" height="37.22" fill="#f57f85"/>
<rect x="1538" y="1348.52" width="183.7" height="37.22" fill="#f68a8f"/>
<rect x="1538" y="1385.74" width="183.7" height="37.22" fill="#dee7f4"/>
<rect x="1538" y="1422.96" width="183.7" height="37.22" fill="#dfe7f5"/>
<rect x="1538" y="1460.18" width="183.7" height="37.22" fill="#f9c1c5"/>
<rect x="1538" y="1497.4" width="183.7" height="37.22" fill="#f8abaf"/>
<rect x="1538" y="1534.62" width="183.7" height="37.22" fill="#dae4f3"/>
<rect x="1538" y="1571.84" width="183.7" height="37.22" fill="#eaeff9"/>
<rect x="1538" y="1609.06" width="183.7" height="37.22" fill="#5a8ac6"/>
<rect x="1538" y="1646.28" width="183.7" height="37.22" fill="#729bce"/>
<rect x="1323.1" y="224.53" width="400.1" height="2.7" fill="#000"/>
<rect x="1323.1" y="261.91" width="400.1" height="2.7" fill="#000"/>
<rect x="1323.1" y="299.29" width="400.1" height="2.7" fill="#000"/>
<rect x="1323.1" y="336.67" width="400.1" height="2.7" fill="#000"/>
<rect x="1323.1" y="374.05" width="400.1" height="2.7" fill="#000"/>
<rect x="1323.1" y="411.43" width="400.1" height="2.7" fill="#000"/>
<rect x="1323.1" y="448.81" width="400.1" height="2.7" fill="#000"/>
<rect x="1323.1" y="486.19" width="400.1" height="2.7" fill="#000"/>
<rect x="1323.1" y="523.57" width="400.1" height="2.7" fill="#000"/>
<rect x="1323.1" y="598.5" width="400.1" height="2.7" fill="#000"/>
<rect x="1323.1" y="636.05" width="400.1" height="2.7" fill="#000"/>
<rect x="1323.1" y="673.6" width="400.1" height="2.7" fill="#000"/>
<rect x="1323.1" y="711.15" width="400.1" height="2.7" fill="#000"/>
<rect x="1323.1" y="748.7" width="400.1" height="2.7" fill="#000"/>
<rect x="1323.1" y="786.25" width="400.1" height="2.7" fill="#000"/>
<rect x="1323.1" y="823.8" width="400.1" height="2.7" fill="#000"/>
<rect x="1323.1" y="861.35" width="400.1" height="2.7" fill="#000"/>
<rect x="1323.1" y="898.9" width="400.1" height="2.7" fill="#000"/>
<rect x="1323.1" y="973.8" width="400.1" height="2.7" fill="#000"/>
<rect x="1323.1" y="1011.15" width="400.1" height="2.7" fill="#000"/>
<rect x="1323.1" y="1048.5" width="400.1" height="2.7" fill="#000"/>
<rect x="1323.1" y="1085.85" width="400.1" height="2.7" fill="#000"/>
<rect x="1323.1" y="1123.2" width="400.1" height="2.7" fill="#000"/>
<rect x="1323.1" y="1160.55" width="400.1" height="2.7" fill="#000"/>
<rect x="1323.1" y="1197.9" width="400.1" height="2.7" fill="#000"/>
<rect x="1323.1" y="1235.25" width="400.1" height="2.7" fill="#000"/>
<rect x="1323.1" y="1272.6" width="400.1" height="2.7" fill="#000"/>
<rect x="1323.1" y="1347.17" width="400.1" height="2.7" fill="#000"/>
<rect x="1323.1" y="1384.39" width="400.1" height="2.7" fill="#000"/>
<rect x="1323.1" y="1421.61" width="400.1" height="2.7" fill="#000"/>
<rect x="1323.1" y="1458.83" width="400.1" height="2.7" fill="#000"/>
<rect x="1323.1" y="1496.05" width="400.1" height="2.7" fill="#000"/>
<rect x="1323.1" y="1533.27" width="400.1" height="2.7" fill="#000"/>
<rect x="1323.1" y="1570.49" width="400.1" height="2.7" fill="#000"/>
<rect x="1323.1" y="1607.71" width="400.1" height="2.7" fill="#000"/>
<rect x="1323.1" y="1644.93" width="400.1" height="2.7" fill="#000"/>
<rect x="1323.1" y="560.1" width="400.1" height="4.4" fill="#000"/>
<rect x="1323.1" y="935.6" width="400.1" height="4.4" fill="#000"/>
<rect x="1323.1" y="1309.1" width="400.1" height="4.4" fill="#000"/>
<rect x="1323.1" y="1681.3" width="400.1" height="4.4" fill="#000"/>
<rect x="1323.1" y="186.2" width="400.1" height="4.6" fill="#000"/>
<rect x="1323.1" y="0" width="400.1" height="3" fill="#000"/>
<rect x="1323.2" y="0" width="2.8" height="1685.7" fill="#000"/>
<rect x="1536.6" y="0" width="2.8" height="1685.7" fill="#000"/>
<rect x="1720.3" y="0" width="2.8" height="1685.7" fill="#000"/>
<g font-family="Carlito, Calibri, 'Liberation Sans', sans-serif" font-size="27.9" fill="#000" stroke="#000" stroke-width="0.35" text-anchor="middle">
<text x="1431.3" y="104" font-size="28" textLength="83.7" lengthAdjust="spacingAndGlyphs">Sample</text>
<text x="1629.85" y="48.7" font-size="27.6" textLength="80.3" lengthAdjust="spacingAndGlyphs">Log2FC</text>
<text x="1629.85" y="85.9" font-size="27.6" textLength="167.7" lengthAdjust="spacingAndGlyphs">Sample-Avg. of</text>
<text x="1629.85" y="123.1" font-size="27.6" textLength="123.5" lengthAdjust="spacingAndGlyphs">all samples</text>
<text x="1629.85" y="160.3" font-size="27.6" textLength="121.2" lengthAdjust="spacingAndGlyphs">T40/T35>3</text>
<text x="1431.3" y="217.13" textLength="96.1" lengthAdjust="spacingAndGlyphs">1G5 RAP</text>
<text x="1629.85" y="217.13" textLength="86.6" lengthAdjust="spacingAndGlyphs">0.16003</text>
<text x="1431.3" y="254.51" textLength="122.5" lengthAdjust="spacingAndGlyphs">1G5 DMSO</text>
<text x="1629.85" y="254.51" textLength="86.6" lengthAdjust="spacingAndGlyphs">0.23567</text>
<text x="1431.3" y="291.89" textLength="133.4" lengthAdjust="spacingAndGlyphs">FIKK4.1 RAP</text>
<text x="1629.85" y="291.89" textLength="94.4" lengthAdjust="spacingAndGlyphs">-0.00171</text>
<text x="1431.3" y="329.27" textLength="159.7" lengthAdjust="spacingAndGlyphs">FIKK4.1 DMSO</text>
<text x="1629.85" y="329.27" textLength="86.6" lengthAdjust="spacingAndGlyphs">0.00589</text>
<text x="1431.3" y="366.65" textLength="133.4" lengthAdjust="spacingAndGlyphs">FIKK7.1 RAP</text>
<text x="1629.85" y="366.65" textLength="94.4" lengthAdjust="spacingAndGlyphs">-0.02763</text>
<text x="1431.3" y="404.03" textLength="159.7" lengthAdjust="spacingAndGlyphs">FIKK7.1 DMSO</text>
<text x="1629.85" y="404.03" textLength="94.4" lengthAdjust="spacingAndGlyphs">-0.02764</text>
<text x="1431.3" y="441.41" textLength="147.3" lengthAdjust="spacingAndGlyphs">FIKK10.1 RAP</text>
<text x="1629.85" y="441.41" textLength="94.4" lengthAdjust="spacingAndGlyphs">-0.12144</text>
<text x="1431.3" y="478.79" textLength="173.6" lengthAdjust="spacingAndGlyphs">FIKK10.1 DMSO</text>
<text x="1629.85" y="478.79" textLength="94.4" lengthAdjust="spacingAndGlyphs">-0.06729</text>
<text x="1431.3" y="516.17" textLength="126.6" lengthAdjust="spacingAndGlyphs">FIKK11 RAP</text>
<text x="1629.85" y="516.17" textLength="94.4" lengthAdjust="spacingAndGlyphs">-0.08257</text>
<text x="1431.3" y="552.7" textLength="152.9" lengthAdjust="spacingAndGlyphs">FIKK11 DMSO</text>
<text x="1629.85" y="552.7" textLength="94.4" lengthAdjust="spacingAndGlyphs">-0.07332</text>
<text x="1431.3" y="591.1" textLength="112.7" lengthAdjust="spacingAndGlyphs">FIKK5 RAP</text>
<text x="1629.85" y="591.1" textLength="86.6" lengthAdjust="spacingAndGlyphs">0.16548</text>
<text x="1431.3" y="628.65" textLength="139.1" lengthAdjust="spacingAndGlyphs">FIKK5 DMSO</text>
<text x="1629.85" y="628.65" textLength="86.6" lengthAdjust="spacingAndGlyphs">0.16193</text>
<text x="1431.3" y="666.2" textLength="147.3" lengthAdjust="spacingAndGlyphs">FIKK10.2 RAP</text>
<text x="1629.85" y="666.2" textLength="86.6" lengthAdjust="spacingAndGlyphs">0.07603</text>
<text x="1431.3" y="703.75" textLength="173.6" lengthAdjust="spacingAndGlyphs">FIKK10.2 DMSO</text>
<text x="1629.85" y="703.75" textLength="94.4" lengthAdjust="spacingAndGlyphs">-0.11450</text>
<text x="1431.3" y="741.3" textLength="133.4" lengthAdjust="spacingAndGlyphs">FIKK4.2 RAP</text>
<text x="1629.85" y="741.3" textLength="94.4" lengthAdjust="spacingAndGlyphs">-0.05461</text>
<text x="1431.3" y="778.85" textLength="159.7" lengthAdjust="spacingAndGlyphs">FIKK4.2 DMSO</text>
<text x="1629.85" y="778.85" textLength="94.4" lengthAdjust="spacingAndGlyphs">-0.17506</text>
<text x="1431.3" y="816.4" textLength="123.4" lengthAdjust="spacingAndGlyphs">FIKK9s RAP</text>
<text x="1629.85" y="816.4" textLength="94.4" lengthAdjust="spacingAndGlyphs">-0.11328</text>
<text x="1431.3" y="853.95" textLength="149.7" lengthAdjust="spacingAndGlyphs">FIKK9s DMSO</text>
<text x="1629.85" y="853.95" textLength="86.6" lengthAdjust="spacingAndGlyphs">0.12593</text>
<text x="1431.3" y="891.5" textLength="58.1" lengthAdjust="spacingAndGlyphs">NF54</text>
<text x="1629.85" y="891.5" textLength="94.4" lengthAdjust="spacingAndGlyphs">-0.07192</text>
<text x="1431.3" y="928.2" textLength="119.7" lengthAdjust="spacingAndGlyphs" font-style="italic">P. knowlesi</text>
<text x="1629.85" y="928.2" textLength="94.4" lengthAdjust="spacingAndGlyphs">-0.55525</text>
<text x="1431.3" y="966.4" textLength="112.7" lengthAdjust="spacingAndGlyphs">FIKK1 RAP</text>
<text x="1629.85" y="966.4" textLength="86.6" lengthAdjust="spacingAndGlyphs">0.04647</text>
<text x="1431.3" y="1003.75" textLength="139.1" lengthAdjust="spacingAndGlyphs">FIKK1 DMSO</text>
<text x="1629.85" y="1003.75" textLength="86.6" lengthAdjust="spacingAndGlyphs">0.17114</text>
<text x="1431.3" y="1041.1" textLength="112.7" lengthAdjust="spacingAndGlyphs">FIKK3 RAP</text>
<text x="1629.85" y="1041.1" textLength="86.6" lengthAdjust="spacingAndGlyphs">0.18681</text>
<text x="1431.3" y="1078.45" textLength="139.1" lengthAdjust="spacingAndGlyphs">FIKK3 DMSO</text>
<text x="1629.85" y="1078.45" textLength="86.6" lengthAdjust="spacingAndGlyphs">0.08537</text>
<text x="1431.3" y="1115.8" textLength="126.6" lengthAdjust="spacingAndGlyphs">FIKK13 RAP</text>
<text x="1629.85" y="1115.8" textLength="94.4" lengthAdjust="spacingAndGlyphs">-0.11673</text>
<text x="1431.3" y="1153.15" textLength="152.9" lengthAdjust="spacingAndGlyphs">FIKK13 DMSO</text>
<text x="1629.85" y="1153.15" textLength="94.4" lengthAdjust="spacingAndGlyphs">-0.17606</text>
<text x="1431.3" y="1190.5" textLength="126.6" lengthAdjust="spacingAndGlyphs">FIKK11 RAP</text>
<text x="1629.85" y="1190.5" textLength="94.4" lengthAdjust="spacingAndGlyphs">-0.04604</text>
<text x="1431.3" y="1227.85" textLength="152.9" lengthAdjust="spacingAndGlyphs">FIKK11 DMSO</text>
<text x="1629.85" y="1227.85" textLength="94.4" lengthAdjust="spacingAndGlyphs">-0.24675</text>
<text x="1431.3" y="1265.2" textLength="58.1" lengthAdjust="spacingAndGlyphs">NF54</text>
<text x="1629.85" y="1265.2" textLength="86.6" lengthAdjust="spacingAndGlyphs">0.09580</text>
<text x="1431.3" y="1301.7" textLength="119.7" lengthAdjust="spacingAndGlyphs" font-style="italic">P. knowlesi</text>
<text x="1629.85" y="1301.7" textLength="94.4" lengthAdjust="spacingAndGlyphs">-0.49706</text>
<text x="1431.3" y="1339.77" textLength="112.7" lengthAdjust="spacingAndGlyphs">FIKK1 RAP</text>
<text x="1629.85" y="1339.77" textLength="86.6" lengthAdjust="spacingAndGlyphs">0.48632</text>
<text x="1431.3" y="1376.99" textLength="139.1" lengthAdjust="spacingAndGlyphs">FIKK1 DMSO</text>
<text x="1629.85" y="1376.99" textLength="86.6" lengthAdjust="spacingAndGlyphs">0.44402</text>
<text x="1431.3" y="1414.21" textLength="133.4" lengthAdjust="spacingAndGlyphs">FIKK4.1 RAP</text>
<text x="1629.85" y="1414.21" textLength="94.4" lengthAdjust="spacingAndGlyphs">-0.10706</text>
<text x="1431.3" y="1451.43" textLength="159.7" lengthAdjust="spacingAndGlyphs">FIKK4.1 DMSO</text>
<text x="1629.85" y="1451.43" textLength="94.4" lengthAdjust="spacingAndGlyphs">-0.10548</text>
<text x="1431.3" y="1488.65" textLength="133.4" lengthAdjust="spacingAndGlyphs">FIKK4.2 RAP</text>
<text x="1629.85" y="1488.65" textLength="86.6" lengthAdjust="spacingAndGlyphs">0.22881</text>
<text x="1431.3" y="1525.87" textLength="159.7" lengthAdjust="spacingAndGlyphs">FIKK4.2 DMSO</text>
<text x="1629.85" y="1525.87" textLength="86.6" lengthAdjust="spacingAndGlyphs">0.31681</text>
<text x="1431.3" y="1563.09" textLength="147.3" lengthAdjust="spacingAndGlyphs">FIKK10.2 RAP</text>
<text x="1629.85" y="1563.09" textLength="94.4" lengthAdjust="spacingAndGlyphs">-0.12261</text>
<text x="1431.3" y="1600.31" textLength="173.6" lengthAdjust="spacingAndGlyphs">FIKK10.2 DMSO</text>
<text x="1629.85" y="1600.31" textLength="94.4" lengthAdjust="spacingAndGlyphs">-0.06604</text>
<text x="1431.3" y="1637.53" textLength="126.6" lengthAdjust="spacingAndGlyphs">FIKK12 RAP</text>
<text x="1629.85" y="1637.53" textLength="94.4" lengthAdjust="spacingAndGlyphs">-0.58020</text>
<text x="1431.3" y="1673.9" textLength="152.9" lengthAdjust="spacingAndGlyphs">FIKK12 DMSO</text>
<text x="1629.85" y="1673.9" textLength="94.4" lengthAdjust="spacingAndGlyphs">-0.49456</text>
</g>
<rect x="1956" y="189.8" width="162.3" height="37.24" fill="#e7edf8"/>
<rect x="1956" y="227.04" width="162.3" height="37.24" fill="#fafbfe"/>
<rect x="1956" y="264.28" width="162.3" height="37.24" fill="#fcfcff"/>
<rect x="1956" y="301.52" width="162.3" height="37.24" fill="#edf1fa"/>
<rect x="1956" y="338.76" width="162.3" height="37.24" fill="#f9fafe"/>
<rect x="1956" y="376" width="162.3" height="37.72" fill="#fcfbfe"/>
<rect x="1956" y="413.72" width="162.3" height="37.72" fill="#f9cbcf"/>
<rect x="1956" y="451.44" width="162.3" height="37.72" fill="#fadde1"/>
<rect x="1956" y="489.16" width="162.3" height="37.72" fill="#b9cde7"/>
<rect x="1956" y="526.88" width="162.3" height="37.72" fill="#f58085"/>
<rect x="1956" y="564.6" width="162.3" height="37.54" fill="#d9e3f3"/>
<rect x="1956" y="602.14" width="162.3" height="37.54" fill="#fbe2e5"/>
<rect x="1956" y="639.68" width="162.3" height="37.54" fill="#fbedf0"/>
<rect x="1956" y="677.22" width="162.3" height="37.54" fill="#f9c8cc"/>
<rect x="1956" y="714.76" width="162.3" height="37.54" fill="#f4676d"/>
<rect x="1956" y="752.3" width="162.3" height="37.14" fill="#fbf1f4"/>
<rect x="1956" y="789.44" width="162.3" height="37.14" fill="#fcfcff"/>
<rect x="1956" y="826.58" width="162.3" height="37.14" fill="#e3ebf6"/>
<rect x="1956" y="863.72" width="162.3" height="37.14" fill="#ecf1f9"/>
<rect x="1956" y="900.86" width="162.3" height="37.14" fill="#e4ebf7"/>
<rect x="1801.5" y="225.69" width="318.3" height="2.7" fill="#000"/>
<rect x="1801.5" y="262.93" width="318.3" height="2.7" fill="#000"/>
<rect x="1801.5" y="300.17" width="318.3" height="2.7" fill="#000"/>
<rect x="1801.5" y="337.41" width="318.3" height="2.7" fill="#000"/>
<rect x="1801.5" y="412.37" width="318.3" height="2.7" fill="#000"/>
<rect x="1801.5" y="450.09" width="318.3" height="2.7" fill="#000"/>
<rect x="1801.5" y="487.81" width="318.3" height="2.7" fill="#000"/>
<rect x="1801.5" y="525.53" width="318.3" height="2.7" fill="#000"/>
<rect x="1801.5" y="600.79" width="318.3" height="2.7" fill="#000"/>
<rect x="1801.5" y="638.33" width="318.3" height="2.7" fill="#000"/>
<rect x="1801.5" y="675.87" width="318.3" height="2.7" fill="#000"/>
<rect x="1801.5" y="713.41" width="318.3" height="2.7" fill="#000"/>
<rect x="1801.5" y="788.09" width="318.3" height="2.7" fill="#000"/>
<rect x="1801.5" y="825.23" width="318.3" height="2.7" fill="#000"/>
<rect x="1801.5" y="862.37" width="318.3" height="2.7" fill="#000"/>
<rect x="1801.5" y="899.51" width="318.3" height="2.7" fill="#000"/>
<rect x="1801.5" y="373.8" width="318.3" height="4.4" fill="#000"/>
<rect x="1801.5" y="562.4" width="318.3" height="4.4" fill="#000"/>
<rect x="1801.5" y="750.1" width="318.3" height="4.4" fill="#000"/>
<rect x="1801.5" y="935.8" width="318.3" height="4.4" fill="#000"/>
<rect x="1801.5" y="187.5" width="318.3" height="4.6" fill="#000"/>
<rect x="1801.5" y="1.5" width="318.3" height="3" fill="#000"/>
<rect x="1801.6" y="1.5" width="2.8" height="938.7" fill="#000"/>
<rect x="1954.6" y="1.5" width="2.8" height="938.7" fill="#000"/>
<rect x="2116.9" y="1.5" width="2.8" height="938.7" fill="#000"/>
<g font-family="Carlito, Calibri, 'Liberation Sans', sans-serif" font-size="27.9" fill="#000" stroke="#000" stroke-width="0.35" text-anchor="middle">
<text x="1879.5" y="106" font-size="28" textLength="83.7" lengthAdjust="spacingAndGlyphs">Sample</text>
<text x="2037.15" y="69.2" font-size="27.6" textLength="80.3" lengthAdjust="spacingAndGlyphs">Log2FC</text>
<text x="2037.15" y="106.4" font-size="27.6" textLength="125.2" lengthAdjust="spacingAndGlyphs">DMSO-RAP</text>
<text x="2037.15" y="143.6" font-size="27.6" textLength="157.0" lengthAdjust="spacingAndGlyphs">for T40/T35>3</text>
<text x="1879.5" y="218.29" textLength="45.1" lengthAdjust="spacingAndGlyphs">1G5</text>
<text x="2037.15" y="218.29" textLength="94.4" lengthAdjust="spacingAndGlyphs">-0.07565</text>
<text x="1879.5" y="255.53" textLength="82.4" lengthAdjust="spacingAndGlyphs">FIKK4.1</text>
<text x="2037.15" y="255.53" textLength="94.4" lengthAdjust="spacingAndGlyphs">-0.00760</text>
<text x="1879.5" y="292.77" textLength="82.4" lengthAdjust="spacingAndGlyphs">FIKK7.1</text>
<text x="2037.15" y="292.77" textLength="86.6" lengthAdjust="spacingAndGlyphs">0.00001</text>
<text x="1879.5" y="330.01" textLength="96.3" lengthAdjust="spacingAndGlyphs">FIKK10.1</text>
<text x="2037.15" y="330.01" textLength="94.4" lengthAdjust="spacingAndGlyphs">-0.05414</text>
<text x="1879.5" y="366.4" textLength="75.6" lengthAdjust="spacingAndGlyphs">FIKK11</text>
<text x="2037.15" y="366.4" textLength="94.4" lengthAdjust="spacingAndGlyphs">-0.00925</text>
<text x="1879.5" y="404.97" textLength="61.7" lengthAdjust="spacingAndGlyphs">FIKK5</text>
<text x="2037.15" y="404.97" textLength="86.6" lengthAdjust="spacingAndGlyphs">0.00356</text>
<text x="1879.5" y="442.69" textLength="96.3" lengthAdjust="spacingAndGlyphs">FIKK10.2</text>
<text x="2037.15" y="442.69" textLength="86.6" lengthAdjust="spacingAndGlyphs">0.19053</text>
<text x="1879.5" y="480.41" textLength="82.4" lengthAdjust="spacingAndGlyphs">FIKK4.2</text>
<text x="2037.15" y="480.41" textLength="86.6" lengthAdjust="spacingAndGlyphs">0.12045</text>
<text x="1879.5" y="518.13" textLength="72.4" lengthAdjust="spacingAndGlyphs">FIKK9s</text>
<text x="2037.15" y="518.13" textLength="94.4" lengthAdjust="spacingAndGlyphs">-0.23921</text>
<text x="1879.5" y="555" textLength="97.0" lengthAdjust="spacingAndGlyphs">NF54/PK</text>
<text x="2037.15" y="555" textLength="86.6" lengthAdjust="spacingAndGlyphs">0.48333</text>
<text x="1879.5" y="593.39" textLength="61.7" lengthAdjust="spacingAndGlyphs">FIKK1</text>
<text x="2037.15" y="593.39" textLength="94.4" lengthAdjust="spacingAndGlyphs">-0.12467</text>
<text x="1879.5" y="630.93" textLength="61.7" lengthAdjust="spacingAndGlyphs">FIKK3</text>
<text x="2037.15" y="630.93" textLength="86.6" lengthAdjust="spacingAndGlyphs">0.10144</text>
<text x="1879.5" y="668.47" textLength="75.6" lengthAdjust="spacingAndGlyphs">FIKK13</text>
<text x="2037.15" y="668.47" textLength="86.6" lengthAdjust="spacingAndGlyphs">0.05933</text>
<text x="1879.5" y="706.01" textLength="75.6" lengthAdjust="spacingAndGlyphs">FIKK11</text>
<text x="2037.15" y="706.01" textLength="86.6" lengthAdjust="spacingAndGlyphs">0.20071</text>
<text x="1879.5" y="742.7" textLength="97.0" lengthAdjust="spacingAndGlyphs">NF54/PK</text>
<text x="2037.15" y="742.7" textLength="86.6" lengthAdjust="spacingAndGlyphs">0.59286</text>
<text x="1879.5" y="780.69" textLength="61.7" lengthAdjust="spacingAndGlyphs">FIKK1</text>
<text x="2037.15" y="780.69" textLength="86.6" lengthAdjust="spacingAndGlyphs">0.04208</text>
<text x="1879.5" y="817.83" textLength="82.4" lengthAdjust="spacingAndGlyphs">FIKK4.1</text>
<text x="2037.15" y="817.83" textLength="94.4" lengthAdjust="spacingAndGlyphs">-0.00151</text>
<text x="1879.5" y="854.97" textLength="82.4" lengthAdjust="spacingAndGlyphs">FIKK4.2</text>
<text x="2037.15" y="854.97" textLength="94.4" lengthAdjust="spacingAndGlyphs">-0.08826</text>
<text x="1879.5" y="892.11" textLength="96.3" lengthAdjust="spacingAndGlyphs">FIKK10.2</text>
<text x="2037.15" y="892.11" textLength="94.4" lengthAdjust="spacingAndGlyphs">-0.05661</text>
<text x="1879.5" y="928.4" textLength="75.6" lengthAdjust="spacingAndGlyphs">FIKK12</text>
<text x="2037.15" y="928.4" textLength="94.4" lengthAdjust="spacingAndGlyphs">-0.08574</text>
</g>
<rect x="1299.7" y="187.4" width="2" height="75.2" fill="#000"/>
<rect x="1299.7" y="463" width="2" height="69.3" fill="#000"/>
<text transform="translate(1310.5,365) rotate(-90)" text-anchor="middle" font-family="'Liberation Sans', Arial, sans-serif" font-style="italic" font-size="31.5" fill="#000">Experiment 1</text>
<rect x="1299.7" y="567.8" width="2" height="76.2" fill="#000"/>
<rect x="1299.7" y="841" width="2" height="71.8" fill="#000"/>
<text transform="translate(1310.5,744.8) rotate(-90)" text-anchor="middle" font-family="'Liberation Sans', Arial, sans-serif" font-style="italic" font-size="31.5" fill="#000">Experiment 2</text>
<rect x="1299.7" y="948.2" width="2" height="77.8" fill="#000"/>
<rect x="1299.7" y="1218.5" width="2" height="77.4" fill="#000"/>
<text transform="translate(1310.5,1124.5) rotate(-90)" text-anchor="middle" font-family="'Liberation Sans', Arial, sans-serif" font-style="italic" font-size="31.5" fill="#000">Experiment 3</text>
<rect x="1299.7" y="1331.8" width="2" height="74.2" fill="#000"/>
<rect x="1299.7" y="1607" width="2" height="71" fill="#000"/>
<text transform="translate(1310.5,1510.8) rotate(-90)" text-anchor="middle" font-family="'Liberation Sans', Arial, sans-serif" font-style="italic" font-size="31.5" fill="#000">Experiment 4</text>
<rect x="1803.5" y="1141.5" width="60.5" height="36.58" fill="#f4676d"/>
<rect x="1803.5" y="1177.58" width="60.5" height="36.58" fill="#f57c81"/>
<rect x="1803.5" y="1213.65" width="60.5" height="36.58" fill="#f6959a"/>
<rect x="1803.5" y="1249.73" width="60.5" height="36.58" fill="#f8afb3"/>
<rect x="1803.5" y="1285.81" width="60.5" height="36.58" fill="#f9c9cd"/>
<rect x="1803.5" y="1321.88" width="60.5" height="36.58" fill="#fbe2e6"/>
<rect x="1803.5" y="1357.96" width="60.5" height="36.58" fill="#fcfcff"/>
<rect x="1803.5" y="1394.04" width="60.5" height="36.58" fill="#e0e8f5"/>
<rect x="1803.5" y="1430.12" width="60.5" height="36.58" fill="#c4d5eb"/>
<rect x="1803.5" y="1466.19" width="60.5" height="36.58" fill="#a8c1e2"/>
<rect x="1803.5" y="1502.27" width="60.5" height="36.58" fill="#8cadd8"/>
<rect x="1803.5" y="1538.35" width="60.5" height="36.58" fill="#709ace"/>
<rect x="1803.5" y="1574.42" width="60.5" height="36.58" fill="#5a8ac6"/>
<rect x="1803.5" y="1141.5" width="60.5" height="469" fill="none" stroke="#111" stroke-width="1.4"/>
<g font-family="'Liberation Sans', Arial, sans-serif" font-weight="bold" font-size="25" fill="#000">
<text x="1868.5" y="1171.6">0.6</text>
<text x="1868.5" y="1207.3">0.5</text>
<text x="1868.5" y="1243">0.4</text>
<text x="1868.5" y="1278.7">0.3</text>
<text x="1868.5" y="1314.4">0.2</text>
<text x="1868.5" y="1350.1">0.1</text>
<text x="1868.5" y="1385.8">0</text>
<text x="1868.5" y="1421.5">-0.1</text>
<text x="1868.5" y="1457.2">-0.2</text>
<text x="1868.5" y="1492.9">-0.3</text>
<text x="1868.5" y="1528.6">-0.4</text>
<text x="1868.5" y="1564.3">-0.5</text>
<text x="1868.5" y="1600">-0.6</text>
</g>
<text x="1793" y="1121.3" font-family="'Liberation Sans', Arial, sans-serif" font-weight="bold" font-size="28" fill="#000">Log2FC</text>
</svg></body></html>
